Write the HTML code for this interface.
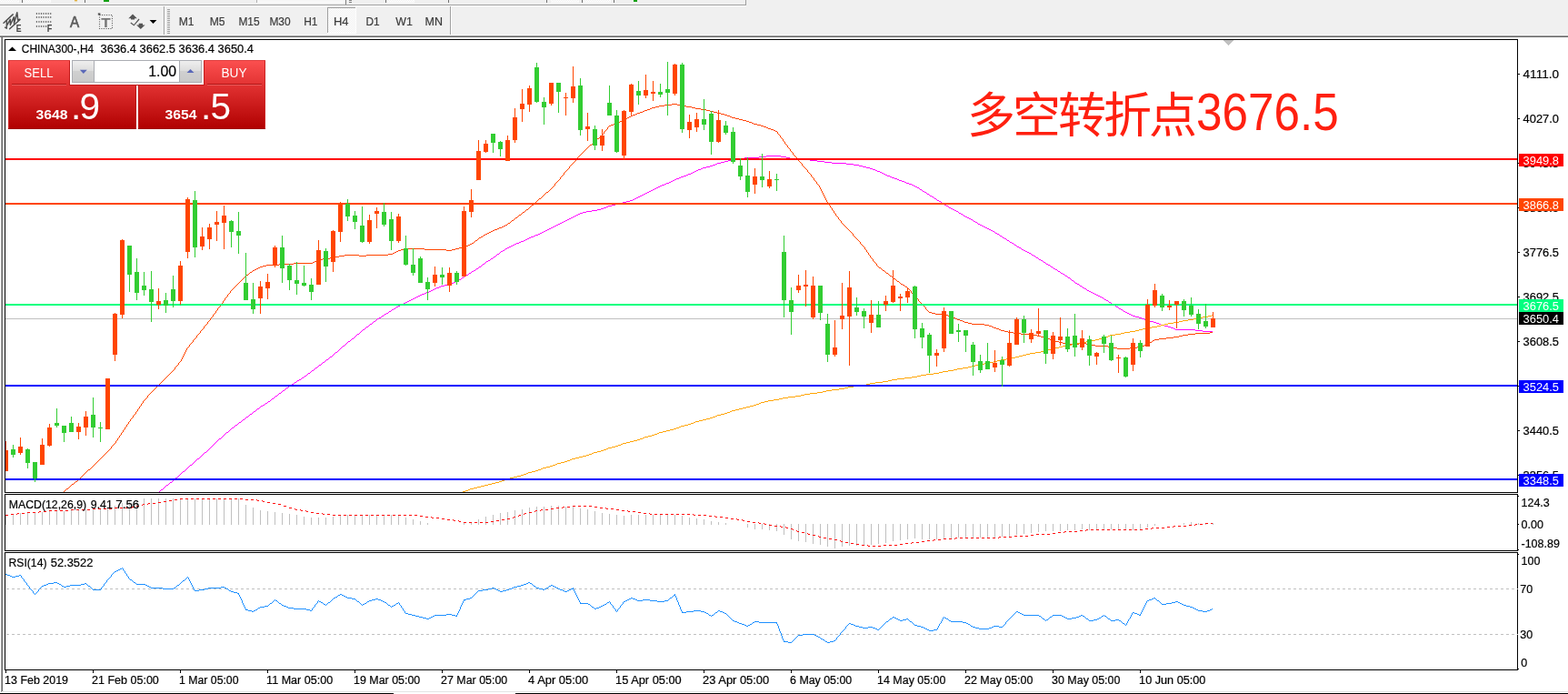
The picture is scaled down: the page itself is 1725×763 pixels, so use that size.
<!DOCTYPE html>
<html lang="zh"><head><meta charset="utf-8"><title>CHINA300-,H4</title>
<style>html,body{margin:0;padding:0;background:#fff;overflow:hidden}svg text{white-space:pre}</style></head>
<body>
<svg width="1725" height="763" viewBox="0 0 1725 763" shape-rendering="crispEdges" font-family='"Liberation Sans", sans-serif' style="display:block">
<defs>
<clipPath id="cm"><rect x="6" y="44" width="1663" height="497"/></clipPath>
<clipPath id="cmacd"><rect x="6" y="544" width="1663" height="61"/></clipPath>
<clipPath id="crsi"><rect x="6" y="608" width="1663" height="128"/></clipPath>
<linearGradient id="gbtn" x1="0" y1="0" x2="0" y2="1"><stop offset="0" stop-color="#fc5050"/><stop offset="1" stop-color="#e23232"/></linearGradient>
<linearGradient id="gpan" x1="0" y1="0" x2="0" y2="1"><stop offset="0" stop-color="#e23232"/><stop offset="1" stop-color="#b00000"/></linearGradient>
<linearGradient id="gspin" x1="0" y1="0" x2="0" y2="1"><stop offset="0" stop-color="#efefef"/><stop offset="0.5" stop-color="#dcdcdc"/><stop offset="0.5" stop-color="#d0d0d0"/><stop offset="1" stop-color="#cacaca"/></linearGradient>
<pattern id="hatch" width="2" height="2" patternUnits="userSpaceOnUse"><rect width="2" height="2" fill="#f0f0f0"/><rect width="1" height="1" fill="#fff"/><rect x="1" y="1" width="1" height="1" fill="#fff"/></pattern>
</defs>
<rect x="0" y="0" width="1725" height="763" fill="#ffffff"/>
<rect x="0" y="0" width="1725" height="39" fill="#f0f0f0"/>
<g id="topstrip">
<rect x="0" y="5" width="821" height="1" fill="#a0a0a0"/>
<rect x="0" y="6" width="821" height="1" fill="#ffffff"/>
<rect x="820" y="0" width="1" height="6" fill="#a0a0a0"/>
<rect x="0" y="0" width="20" height="2" fill="url(#hatch)"/>
<rect x="0" y="2" width="21" height="1" fill="#fbfbfb"/>
<rect x="20" y="0" width="1" height="3" fill="#fbfbfb"/>
<rect x="24" y="0" width="1" height="3" fill="#707070"/>
<rect x="26" y="0" width="29" height="2" fill="url(#hatch)"/>
<rect x="26" y="2" width="30" height="1" fill="#fbfbfb"/>
<rect x="55" y="0" width="1" height="3" fill="#fbfbfb"/>
<rect x="82" y="0" width="3" height="1" fill="#e0b040"/>
<rect x="82" y="1" width="3" height="1" fill="#ecd9a8"/>
<rect x="93" y="0" width="1" height="3" fill="#707070"/>
<rect x="114" y="0" width="6" height="2" fill="#10a010"/>
<rect x="283" y="0" width="96" height="2" fill="#f6f6f6"/>
<rect x="283" y="2" width="96" height="1" fill="#fdfdfd"/>
<rect x="282" y="0" width="1" height="3" fill="#b0b0b0"/>
<rect x="380" y="0" width="1" height="5" fill="#808080"/>
<rect x="384" y="0" width="3" height="1" fill="#808080"/>
<rect x="384" y="2" width="3" height="1" fill="#808080"/>
<rect x="424" y="0" width="1" height="3" fill="#707070"/>
<rect x="426" y="0" width="29" height="2" fill="url(#hatch)"/>
<rect x="426" y="2" width="30" height="1" fill="#fbfbfb"/>
<rect x="455" y="0" width="1" height="3" fill="#fbfbfb"/>
<rect x="493" y="0" width="1" height="3" fill="#707070"/>
<rect x="601" y="0" width="1" height="3" fill="#707070"/>
<rect x="606" y="0" width="30" height="2" fill="url(#hatch)"/>
<rect x="606" y="2" width="31" height="1" fill="#fbfbfb"/>
<rect x="636" y="0" width="1" height="3" fill="#fbfbfb"/>
<rect x="640" y="0" width="1" height="3" fill="#707070"/>
<rect x="642" y="0" width="29" height="2" fill="url(#hatch)"/>
<rect x="642" y="2" width="30" height="1" fill="#fbfbfb"/>
<rect x="671" y="0" width="1" height="3" fill="#fbfbfb"/>
<rect x="675" y="0" width="1" height="3" fill="#707070"/>
<rect x="697" y="0" width="4" height="2" fill="#10a010"/>
</g>
<g id="toolbar">
<rect x="180" y="7" width="1" height="32" fill="#a0a0a0"/>
<rect x="181" y="7" width="1" height="32" fill="#ffffff"/>
<rect x="184" y="10" width="3" height="1" fill="#a0a0a0"/>
<rect x="184" y="12" width="3" height="1" fill="#a0a0a0"/>
<rect x="184" y="14" width="3" height="1" fill="#a0a0a0"/>
<rect x="184" y="16" width="3" height="1" fill="#a0a0a0"/>
<rect x="184" y="18" width="3" height="1" fill="#a0a0a0"/>
<rect x="184" y="20" width="3" height="1" fill="#a0a0a0"/>
<rect x="184" y="22" width="3" height="1" fill="#a0a0a0"/>
<rect x="184" y="24" width="3" height="1" fill="#a0a0a0"/>
<rect x="184" y="26" width="3" height="1" fill="#a0a0a0"/>
<rect x="184" y="28" width="3" height="1" fill="#a0a0a0"/>
<rect x="184" y="30" width="3" height="1" fill="#a0a0a0"/>
<rect x="184" y="32" width="3" height="1" fill="#a0a0a0"/>
<rect x="184" y="34" width="3" height="1" fill="#a0a0a0"/>
<rect x="184" y="36" width="3" height="1" fill="#a0a0a0"/>
<rect x="360" y="8" width="31" height="29" fill="url(#hatch)"/>
<rect x="360" y="8" width="31" height="1" fill="#a0a0a0"/>
<rect x="360" y="8" width="1" height="29" fill="#a0a0a0"/>
<rect x="360" y="36" width="32" height="1" fill="#ffffff"/>
<rect x="391" y="8" width="1" height="29" fill="#ffffff"/>
<text x="196.8" y="28" font-size="12.5" fill="#3c3c3c" stroke="#3c3c3c" stroke-width="0.2" textLength="16.8" lengthAdjust="spacingAndGlyphs">M1</text>
<text x="230.8" y="28" font-size="12.5" fill="#3c3c3c" stroke="#3c3c3c" stroke-width="0.2" textLength="16.8" lengthAdjust="spacingAndGlyphs">M5</text>
<text x="262.4" y="28" font-size="12.5" fill="#3c3c3c" stroke="#3c3c3c" stroke-width="0.2" textLength="23.2" lengthAdjust="spacingAndGlyphs">M15</text>
<text x="296.4" y="28" font-size="12.5" fill="#3c3c3c" stroke="#3c3c3c" stroke-width="0.2" textLength="23.2" lengthAdjust="spacingAndGlyphs">M30</text>
<text x="334.2" y="28" font-size="12.5" fill="#3c3c3c" stroke="#3c3c3c" stroke-width="0.2" textLength="15.3" lengthAdjust="spacingAndGlyphs">H1</text>
<text x="366.9" y="28" font-size="12.5" fill="#3c3c3c" stroke="#3c3c3c" stroke-width="0.2" textLength="16.6" lengthAdjust="spacingAndGlyphs">H4</text>
<text x="402.5" y="28" font-size="12.5" fill="#3c3c3c" stroke="#3c3c3c" stroke-width="0.2" textLength="15.2" lengthAdjust="spacingAndGlyphs">D1</text>
<text x="435.3" y="28" font-size="12.5" fill="#3c3c3c" stroke="#3c3c3c" stroke-width="0.2" textLength="18.6" lengthAdjust="spacingAndGlyphs">W1</text>
<text x="467.5" y="28" font-size="12.5" fill="#3c3c3c" stroke="#3c3c3c" stroke-width="0.2" textLength="19.4" lengthAdjust="spacingAndGlyphs">MN</text>
<rect x="495" y="7" width="1" height="32" fill="#a0a0a0"/>
<rect x="496" y="7" width="1" height="32" fill="#ffffff"/>
<g id="icons" shape-rendering="geometricPrecision">
<g stroke="#505050" fill="none" stroke-width="1.5" stroke-linecap="round" stroke-linejoin="round">
<path d="M4 25.3 L14.2 15.9"/>
<path d="M10.6 31.8 L22 21.5"/>
<path d="M5.6 30.2 L7.3 31.2 L7.4 22.9 M7.6 28 L11.3 21.3 L11.4 27.6 M11.6 26.8 L15.3 18.7 L15.6 26.4 M15.8 24.6 L18.8 13.7 L19.7 22.2 L21.6 21.2"/>
</g>
<text x="17.8" y="34.7" font-size="10.5" fill="#444" font-weight="bold" textLength="5.8" lengthAdjust="spacingAndGlyphs">E</text>
<rect x="39.8" y="14" width="1.2" height="1.9" fill="#707070"/>
<rect x="42.349999999999994" y="14" width="1.2" height="1.9" fill="#707070"/>
<rect x="44.9" y="14" width="1.2" height="1.9" fill="#707070"/>
<rect x="47.449999999999996" y="14" width="1.2" height="1.9" fill="#707070"/>
<rect x="50.0" y="14" width="1.2" height="1.9" fill="#707070"/>
<rect x="52.55" y="14" width="1.2" height="1.9" fill="#707070"/>
<rect x="55.099999999999994" y="14" width="1.2" height="1.9" fill="#707070"/>
<rect x="39.8" y="18" width="1.2" height="1.9" fill="#707070"/>
<rect x="42.349999999999994" y="18" width="1.2" height="1.9" fill="#707070"/>
<rect x="44.9" y="18" width="1.2" height="1.9" fill="#707070"/>
<rect x="47.449999999999996" y="18" width="1.2" height="1.9" fill="#707070"/>
<rect x="50.0" y="18" width="1.2" height="1.9" fill="#707070"/>
<rect x="52.55" y="18" width="1.2" height="1.9" fill="#707070"/>
<rect x="55.099999999999994" y="18" width="1.2" height="1.9" fill="#707070"/>
<rect x="39.8" y="23" width="1.2" height="1.9" fill="#707070"/>
<rect x="42.349999999999994" y="23" width="1.2" height="1.9" fill="#707070"/>
<rect x="44.9" y="23" width="1.2" height="1.9" fill="#707070"/>
<rect x="47.449999999999996" y="23" width="1.2" height="1.9" fill="#707070"/>
<rect x="50.0" y="23" width="1.2" height="1.9" fill="#707070"/>
<rect x="52.55" y="23" width="1.2" height="1.9" fill="#707070"/>
<rect x="55.099999999999994" y="23" width="1.2" height="1.9" fill="#707070"/>
<rect x="39.8" y="28" width="1.2" height="1.9" fill="#707070"/>
<rect x="42.349999999999994" y="28" width="1.2" height="1.9" fill="#707070"/>
<rect x="44.9" y="28" width="1.2" height="1.9" fill="#707070"/>
<rect x="47.449999999999996" y="28" width="1.2" height="1.9" fill="#707070"/>
<rect x="50.0" y="28" width="1.2" height="1.9" fill="#707070"/>
<text x="51.8" y="34.7" font-size="10.5" fill="#444" font-weight="bold" textLength="5.6" lengthAdjust="spacingAndGlyphs">F</text>
<text x="76.9" y="29.8" font-size="16.3" fill="#5a5a5a" stroke="#5a5a5a" stroke-width="0.6" textLength="10.2" lengthAdjust="spacingAndGlyphs">A</text>
<rect x="109.5" y="16.5" width="14" height="15" fill="none" stroke="#5a5a5a" stroke-width="1.1" stroke-dasharray="1.1 1.4"/>
<rect x="107.8" y="14.4" width="2.6" height="2.2" fill="#555"/>
<text x="111.2" y="29.6" font-size="14.5" fill="#777" font-weight="bold" textLength="10.4" lengthAdjust="spacingAndGlyphs">T</text>
<g fill="#555" stroke="none">
<path d="M146 15.6 L150.8 20.3 L148.1 20.3 L148.1 21.6 L144 21.6 L144 20.3 L141.3 20.3 Z"/>
<path d="M154.8 32 L159.6 27.4 L157 27.4 L157 25.8 L152.7 25.8 L152.7 27.4 L150.1 27.4 Z"/>
<path d="M144.2 24.6 L147.3 27 L152.6 20.6 L153.5 21.6 L147.4 28.6 L143.4 25.6 Z"/>
<path d="M164.6 22 L172.4 22 L168.5 26.1 Z" fill="#000"/>
</g>
</g>
</g>
<rect x="0" y="38" width="1725" height="1" fill="#f8f8f8"/>
<rect x="0" y="39" width="1725" height="1" fill="#a0a0a0"/>
<rect x="0" y="40" width="1725" height="1" fill="#696969"/>
<rect x="1" y="41" width="1" height="720" fill="#a0a0a0"/>
<rect x="2" y="41" width="1" height="719" fill="#696969"/>
<rect x="3" y="760" width="1722" height="1" fill="#e3e3e3"/>
<rect x="0" y="762" width="433" height="1" fill="#000"/>
<rect x="567" y="762" width="1158" height="1" fill="#000"/>
<rect x="5" y="43" width="1665" height="1" fill="#000"/>
<rect x="5" y="541" width="1665" height="1" fill="#000"/>
<rect x="5" y="43" width="1" height="499" fill="#000"/>
<rect x="1669" y="43" width="1" height="499" fill="#000"/>
<rect x="5" y="543" width="1665" height="1" fill="#000"/>
<rect x="5" y="605" width="1665" height="1" fill="#000"/>
<rect x="5" y="543" width="1" height="63" fill="#000"/>
<rect x="1669" y="543" width="1" height="63" fill="#000"/>
<rect x="5" y="607" width="1665" height="1" fill="#000"/>
<rect x="5" y="736" width="1665" height="1" fill="#000"/>
<rect x="5" y="607" width="1" height="130" fill="#000"/>
<rect x="1669" y="607" width="1" height="130" fill="#000"/>
<g clip-path="url(#cm)">
<rect x="6" y="350" width="1663" height="1" fill="#c0c0c0"/>
<path fill="#ff4500" d="M739 114h6v1h-6zM731 115h8v1h-8zM745 115h4v1h-4zM725 116h6v1h-6zM749 116h6v1h-6zM721 117h4v1h-4zM755 117h6v1h-6zM717 118h4v1h-4zM761 118h4v1h-4zM715 119h2v1h-2zM765 119h6v1h-6zM712 120h3v1h-3zM771 120h6v1h-6zM709 121h3v1h-3zM777 121h4v1h-4zM707 122h2v1h-2zM781 122h4v1h-4zM704 123h3v1h-3zM785 123h4v1h-4zM701 124h3v1h-3zM789 124h4v1h-4zM699 125h2v1h-2zM793 125h4v1h-4zM696 126h3v1h-3zM797 126h3v1h-3zM694 127h2v1h-2zM800 127h3v1h-3zM692 128h2v1h-2zM803 128h2v1h-2zM690 129h2v1h-2zM805 129h4v1h-4zM688 130h2v1h-2zM809 130h4v1h-4zM686 131h2v1h-2zM813 131h4v1h-4zM684 132h2v1h-2zM817 132h4v1h-4zM682 133h2v1h-2zM821 133h3v1h-3zM680 134h2v1h-2zM824 134h3v1h-3zM677 135h3v1h-3zM827 135h2v1h-2zM675 136h2v1h-2zM829 136h4v1h-4zM672 137h3v1h-3zM833 137h4v1h-4zM670 138h2v1h-2zM837 138h3v1h-3zM669 139h1v1h-1zM840 139h3v1h-3zM668 140h1v2h-1zM843 140h2v1h-2zM845 141h3v1h-3zM667 142h1v1h-1zM848 142h3v1h-3zM666 143h1v1h-1zM851 143h2v1h-2zM665 144h1v1h-1zM853 144h2v1h-2zM664 145h1v2h-1zM855 145h1v2h-1zM663 147h1v1h-1zM856 147h1v1h-1zM662 148h1v1h-1zM857 148h1v1h-1zM661 149h1v1h-1zM858 149h1v2h-1zM660 150h1v1h-1zM659 151h1v1h-1zM859 151h1v1h-1zM657 152h2v1h-2zM860 152h1v1h-1zM656 153h1v1h-1zM861 153h1v2h-1zM655 154h1v1h-1zM654 155h1v1h-1zM862 155h1v1h-1zM653 156h1v1h-1zM863 156h1v2h-1zM652 157h1v1h-1zM651 158h1v1h-1zM864 158h1v1h-1zM649 159h2v1h-2zM865 159h1v1h-1zM648 160h1v1h-1zM866 160h1v2h-1zM647 161h1v1h-1zM646 162h1v1h-1zM867 162h1v1h-1zM645 163h1v1h-1zM868 163h1v1h-1zM644 164h1v1h-1zM869 164h1v2h-1zM643 165h1v1h-1zM642 166h1v1h-1zM870 166h1v1h-1zM641 167h1v1h-1zM871 167h1v1h-1zM640 168h1v1h-1zM872 168h1v2h-1zM639 169h1v1h-1zM638 170h1v1h-1zM873 170h1v1h-1zM637 171h1v1h-1zM874 171h1v1h-1zM636 172h1v1h-1zM875 172h1v1h-1zM635 173h1v1h-1zM876 173h1v2h-1zM634 174h1v2h-1zM877 175h1v1h-1zM633 176h1v1h-1zM878 176h1v1h-1zM632 177h1v1h-1zM879 177h1v1h-1zM631 178h1v1h-1zM880 178h1v1h-1zM630 179h1v1h-1zM881 179h1v1h-1zM629 180h1v1h-1zM882 180h1v2h-1zM628 181h1v1h-1zM627 182h1v1h-1zM883 182h1v1h-1zM626 183h1v2h-1zM884 183h1v1h-1zM885 184h1v1h-1zM625 185h1v1h-1zM886 185h1v1h-1zM624 186h1v1h-1zM887 186h1v1h-1zM623 187h1v1h-1zM888 187h1v2h-1zM622 188h1v1h-1zM621 189h1v1h-1zM889 189h1v1h-1zM620 190h1v2h-1zM890 190h1v1h-1zM891 191h1v1h-1zM619 192h1v1h-1zM892 192h1v2h-1zM618 193h1v1h-1zM617 194h1v1h-1zM893 194h1v1h-1zM616 195h1v2h-1zM894 195h1v1h-1zM895 196h1v2h-1zM615 197h1v1h-1zM614 198h1v1h-1zM896 198h1v1h-1zM613 199h1v1h-1zM897 199h1v1h-1zM612 200h1v1h-1zM898 200h1v2h-1zM611 201h1v1h-1zM610 202h1v2h-1zM899 202h1v1h-1zM900 203h1v1h-1zM609 204h1v1h-1zM901 204h1v2h-1zM608 205h1v1h-1zM607 206h1v1h-1zM902 206h1v2h-1zM606 207h1v1h-1zM605 208h1v1h-1zM903 208h1v2h-1zM604 209h1v1h-1zM603 210h1v1h-1zM904 210h1v2h-1zM601 211h2v1h-2zM600 212h1v1h-1zM905 212h1v2h-1zM599 213h1v1h-1zM598 214h1v1h-1zM906 214h1v2h-1zM597 215h1v1h-1zM596 216h1v1h-1zM907 216h1v2h-1zM595 217h1v1h-1zM593 218h2v1h-2zM908 218h1v2h-1zM592 219h1v1h-1zM591 220h1v1h-1zM909 220h1v2h-1zM590 221h1v1h-1zM589 222h1v1h-1zM910 222h1v1h-1zM588 223h1v1h-1zM911 223h1v2h-1zM587 224h1v1h-1zM585 225h2v1h-2zM912 225h1v1h-1zM584 226h1v1h-1zM913 226h1v2h-1zM583 227h1v1h-1zM582 228h1v1h-1zM914 228h1v1h-1zM581 229h1v1h-1zM915 229h1v2h-1zM579 230h2v1h-2zM578 231h1v1h-1zM916 231h1v1h-1zM577 232h1v1h-1zM917 232h1v2h-1zM575 233h2v1h-2zM574 234h1v1h-1zM918 234h1v1h-1zM573 235h1v1h-1zM919 235h1v2h-1zM571 236h2v1h-2zM570 237h1v1h-1zM920 237h1v1h-1zM569 238h1v1h-1zM921 238h1v1h-1zM567 239h2v1h-2zM922 239h1v2h-1zM566 240h1v1h-1zM565 241h1v1h-1zM923 241h1v1h-1zM563 242h2v1h-2zM924 242h1v1h-1zM562 243h1v1h-1zM925 243h1v2h-1zM561 244h1v1h-1zM559 245h2v1h-2zM926 245h1v1h-1zM558 246h1v1h-1zM927 246h1v1h-1zM556 247h2v1h-2zM928 247h1v1h-1zM554 248h2v1h-2zM929 248h1v1h-1zM552 249h2v1h-2zM930 249h1v1h-1zM549 250h3v1h-3zM931 250h1v1h-1zM547 251h2v1h-2zM932 251h1v1h-1zM544 252h3v1h-3zM933 252h1v1h-1zM542 253h2v1h-2zM934 253h1v1h-1zM540 254h2v1h-2zM935 254h1v1h-1zM538 255h2v1h-2zM936 255h1v1h-1zM536 256h2v1h-2zM937 256h1v1h-1zM534 257h2v1h-2zM938 257h1v2h-1zM532 258h2v1h-2zM531 259h1v1h-1zM939 259h1v1h-1zM529 260h2v1h-2zM940 260h1v1h-1zM527 261h2v1h-2zM941 261h1v1h-1zM526 262h1v1h-1zM942 262h1v1h-1zM525 263h1v1h-1zM943 263h1v1h-1zM523 264h2v1h-2zM944 264h1v1h-1zM522 265h1v1h-1zM945 265h1v1h-1zM521 266h1v1h-1zM946 266h1v2h-1zM519 267h2v1h-2zM517 268h2v1h-2zM947 268h1v1h-1zM515 269h2v1h-2zM948 269h1v1h-1zM512 270h3v1h-3zM949 270h1v1h-1zM509 271h3v1h-3zM950 271h1v1h-1zM505 272h4v1h-4zM951 272h1v2h-1zM445 273h22v1h-22zM501 273h4v1h-4zM441 274h4v1h-4zM467 274h24v1h-24zM497 274h4v1h-4zM952 274h1v1h-1zM438 275h3v1h-3zM491 275h6v1h-6zM953 275h1v2h-1zM436 276h2v1h-2zM434 277h2v1h-2zM954 277h1v1h-1zM432 278h2v1h-2zM955 278h1v2h-1zM427 279h5v1h-5zM379 280h16v1h-16zM403 280h24v1h-24zM956 280h1v1h-1zM373 281h6v1h-6zM395 281h8v1h-8zM957 281h1v2h-1zM369 282h4v1h-4zM363 283h6v1h-6zM958 283h1v1h-1zM355 284h8v1h-8zM959 284h1v1h-1zM350 285h5v1h-5zM960 285h1v2h-1zM348 286h2v1h-2zM346 287h2v1h-2zM961 287h1v1h-1zM344 288h2v1h-2zM962 288h1v1h-1zM323 289h21v1h-21zM963 289h1v1h-1zM307 290h16v1h-16zM964 290h1v2h-1zM293 291h14v1h-14zM289 292h4v1h-4zM965 292h1v1h-1zM286 293h3v1h-3zM966 293h1v1h-1zM284 294h2v1h-2zM967 294h2v1h-2zM282 295h2v1h-2zM969 295h1v1h-1zM280 296h2v1h-2zM970 296h1v1h-1zM278 297h2v1h-2zM971 297h2v1h-2zM277 298h1v1h-1zM973 298h1v1h-1zM275 299h2v1h-2zM974 299h1v1h-1zM274 300h1v1h-1zM975 300h2v1h-2zM273 301h1v1h-1zM977 301h1v1h-1zM271 302h2v1h-2zM978 302h1v1h-1zM270 303h1v1h-1zM979 303h2v1h-2zM269 304h1v1h-1zM981 304h1v1h-1zM268 305h1v1h-1zM982 305h1v1h-1zM267 306h1v1h-1zM983 306h2v1h-2zM266 307h1v1h-1zM985 307h1v1h-1zM265 308h1v1h-1zM986 308h1v1h-1zM264 309h1v1h-1zM987 309h2v1h-2zM263 310h1v1h-1zM989 310h1v1h-1zM262 311h1v1h-1zM990 311h1v1h-1zM261 312h1v1h-1zM991 312h2v1h-2zM260 313h1v1h-1zM993 313h2v1h-2zM259 314h1v1h-1zM995 314h1v1h-1zM258 315h1v1h-1zM996 315h2v1h-2zM257 316h1v1h-1zM998 316h1v1h-1zM256 317h1v1h-1zM999 317h1v1h-1zM255 318h1v1h-1zM1000 318h1v1h-1zM254 319h1v1h-1zM1001 319h1v1h-1zM253 320h1v2h-1zM1002 320h1v2h-1zM252 322h1v1h-1zM1003 322h1v1h-1zM251 323h1v1h-1zM1004 323h1v1h-1zM250 324h1v2h-1zM1005 324h1v1h-1zM1006 325h1v1h-1zM249 326h1v1h-1zM1007 326h1v1h-1zM248 327h1v1h-1zM1008 327h1v1h-1zM247 328h1v2h-1zM1009 328h1v1h-1zM1010 329h1v2h-1zM246 330h1v1h-1zM245 331h1v2h-1zM1011 331h1v1h-1zM1012 332h1v1h-1zM244 333h1v1h-1zM1013 333h1v1h-1zM243 334h1v1h-1zM1014 334h1v1h-1zM242 335h1v2h-1zM1015 335h1v1h-1zM1016 336h1v1h-1zM241 337h1v1h-1zM1017 337h1v1h-1zM240 338h1v1h-1zM1018 338h1v2h-1zM239 339h1v2h-1zM1019 340h1v1h-1zM238 341h1v1h-1zM1020 341h1v1h-1zM237 342h1v2h-1zM1021 342h1v1h-1zM1022 343h3v1h-3zM236 344h1v1h-1zM1025 344h4v1h-4zM235 345h1v1h-1zM1029 345h11v1h-11zM234 346h1v2h-1zM1040 346h3v1h-3zM1043 347h2v1h-2zM233 348h1v1h-1zM1045 348h3v1h-3zM232 349h1v1h-1zM1048 349h3v1h-3zM231 350h1v2h-1zM1051 350h2v1h-2zM1053 351h3v1h-3zM230 352h1v1h-1zM1056 352h3v1h-3zM229 353h1v1h-1zM1059 353h2v1h-2zM228 354h1v2h-1zM1061 354h4v1h-4zM1065 355h4v1h-4zM227 356h1v1h-1zM1069 356h14v1h-14zM226 357h1v1h-1zM1083 357h5v1h-5zM225 358h1v1h-1zM1088 358h3v1h-3zM224 359h1v2h-1zM1091 359h2v1h-2zM1093 360h3v1h-3zM223 361h1v1h-1zM1096 361h3v1h-3zM222 362h1v1h-1zM1099 362h2v1h-2zM221 363h1v1h-1zM1101 363h4v1h-4zM220 364h1v2h-1zM1105 364h4v1h-4zM1109 365h6v1h-6zM1331 365h3v1h-3zM219 366h1v1h-1zM1115 366h8v1h-8zM1315 366h16v1h-16zM218 367h1v1h-1zM1123 367h14v1h-14zM1307 367h8v1h-8zM217 368h1v1h-1zM1137 368h4v1h-4zM1301 368h6v1h-6zM216 369h1v2h-1zM1141 369h4v1h-4zM1297 369h4v1h-4zM1145 370h4v1h-4zM1291 370h6v1h-6zM215 371h1v1h-1zM1149 371h3v1h-3zM1283 371h8v1h-8zM214 372h1v1h-1zM1152 372h3v1h-3zM1275 372h8v1h-8zM213 373h1v1h-1zM1155 373h2v1h-2zM1270 373h5v1h-5zM212 374h1v2h-1zM1157 374h4v1h-4zM1268 374h2v1h-2zM1161 375h4v1h-4zM1267 375h1v1h-1zM211 376h1v1h-1zM1165 376h4v1h-4zM1265 376h2v1h-2zM210 377h1v1h-1zM1169 377h4v1h-4zM1187 377h8v1h-8zM1263 377h2v1h-2zM209 378h1v1h-1zM1173 378h14v1h-14zM1195 378h6v1h-6zM1261 378h2v1h-2zM208 379h1v2h-1zM1201 379h4v1h-4zM1259 379h2v1h-2zM1205 380h14v1h-14zM1256 380h3v1h-3zM207 381h1v1h-1zM1219 381h6v1h-6zM1251 381h5v1h-5zM206 382h1v1h-1zM1225 382h4v1h-4zM1243 382h8v1h-8zM205 383h1v2h-1zM1229 383h14v1h-14zM204 385h1v2h-1zM203 387h1v2h-1zM202 389h1v2h-1zM201 391h1v2h-1zM200 393h1v2h-1zM199 395h1v2h-1zM198 397h1v1h-1zM197 398h1v1h-1zM196 399h1v2h-1zM195 401h1v1h-1zM194 402h1v1h-1zM193 403h1v1h-1zM192 404h1v2h-1zM191 406h1v1h-1zM190 407h1v1h-1zM189 408h1v1h-1zM188 409h1v1h-1zM187 410h1v1h-1zM186 411h1v1h-1zM185 412h1v1h-1zM184 413h1v1h-1zM183 414h1v1h-1zM182 415h1v1h-1zM181 416h1v1h-1zM180 417h1v1h-1zM179 418h1v1h-1zM178 419h1v1h-1zM177 420h1v1h-1zM176 421h1v1h-1zM175 422h1v1h-1zM174 423h1v1h-1zM173 424h1v1h-1zM172 425h1v1h-1zM171 426h1v1h-1zM170 427h1v1h-1zM169 428h1v1h-1zM168 429h1v1h-1zM167 430h1v1h-1zM166 431h1v1h-1zM165 432h1v1h-1zM164 433h1v1h-1zM163 434h1v1h-1zM162 435h1v2h-1zM161 437h1v1h-1zM160 438h1v1h-1zM159 439h1v1h-1zM158 440h1v1h-1zM157 441h1v2h-1zM156 443h1v1h-1zM155 444h1v2h-1zM154 446h1v1h-1zM153 447h1v2h-1zM152 449h1v1h-1zM151 450h1v2h-1zM150 452h1v1h-1zM149 453h1v2h-1zM148 455h1v1h-1zM147 456h1v1h-1zM146 457h1v2h-1zM145 459h1v1h-1zM144 460h1v1h-1zM143 461h1v2h-1zM142 463h1v1h-1zM141 464h1v2h-1zM140 466h1v1h-1zM139 467h1v2h-1zM138 469h1v1h-1zM137 470h1v2h-1zM136 472h1v1h-1zM135 473h1v2h-1zM134 475h1v1h-1zM133 476h1v2h-1zM132 478h1v1h-1zM131 479h1v2h-1zM130 481h1v1h-1zM129 482h1v2h-1zM128 484h1v1h-1zM127 485h1v2h-1zM126 487h1v1h-1zM125 488h1v1h-1zM124 489h1v1h-1zM123 490h1v1h-1zM122 491h1v2h-1zM121 493h1v1h-1zM120 494h1v1h-1zM119 495h1v1h-1zM118 496h1v1h-1zM117 497h1v1h-1zM116 498h1v1h-1zM115 499h1v1h-1zM114 500h1v1h-1zM113 501h1v1h-1zM112 502h1v1h-1zM111 503h1v1h-1zM110 504h1v1h-1zM109 505h1v1h-1zM108 506h1v1h-1zM107 507h1v1h-1zM106 508h1v1h-1zM105 509h1v1h-1zM104 510h1v1h-1zM103 511h1v1h-1zM102 512h1v1h-1zM101 513h1v1h-1zM100 514h1v1h-1zM99 515h1v1h-1zM97 516h2v1h-2zM96 517h1v1h-1zM95 518h1v1h-1zM94 519h1v1h-1zM93 520h1v1h-1zM92 521h1v1h-1zM91 522h1v1h-1zM90 523h1v1h-1zM89 524h1v1h-1zM88 525h1v1h-1zM87 526h1v1h-1zM86 527h1v1h-1zM85 528h1v1h-1zM83 529h2v1h-2zM82 530h1v1h-1zM81 531h1v1h-1zM79 532h2v1h-2zM78 533h1v1h-1zM77 534h1v1h-1zM76 535h1v1h-1zM75 536h1v1h-1zM73 537h2v1h-2zM72 538h1v1h-1zM71 539h1v1h-1zM70 540h1v1h-1zM69 541h1v1h-1z"/>
<path fill="#ff00ff" d="M843 171h16v1h-16zM835 172h8v1h-8zM859 172h6v1h-6zM819 173h16v1h-16zM865 173h4v1h-4zM811 174h8v1h-8zM869 174h14v1h-14zM805 175h6v1h-6zM883 175h8v1h-8zM801 176h4v1h-4zM891 176h8v1h-8zM797 177h4v1h-4zM899 177h8v1h-8zM793 178h4v1h-4zM907 178h8v1h-8zM789 179h4v1h-4zM915 179h16v1h-16zM787 180h2v1h-2zM931 180h8v1h-8zM784 181h3v1h-3zM939 181h6v1h-6zM781 182h3v1h-3zM945 182h4v1h-4zM777 183h4v1h-4zM949 183h4v1h-4zM773 184h4v1h-4zM953 184h4v1h-4zM771 185h2v1h-2zM957 185h3v1h-3zM768 186h3v1h-3zM960 186h3v1h-3zM766 187h2v1h-2zM963 187h2v1h-2zM764 188h2v1h-2zM965 188h3v1h-3zM762 189h2v1h-2zM968 189h2v1h-2zM760 190h2v1h-2zM970 190h2v1h-2zM757 191h3v1h-3zM972 191h2v1h-2zM755 192h2v1h-2zM974 192h2v1h-2zM752 193h3v1h-3zM976 193h3v1h-3zM749 194h3v1h-3zM979 194h2v1h-2zM747 195h2v1h-2zM981 195h3v1h-3zM744 196h3v1h-3zM984 196h3v1h-3zM742 197h2v1h-2zM987 197h2v1h-2zM740 198h2v1h-2zM989 198h3v1h-3zM738 199h2v1h-2zM992 199h3v1h-3zM736 200h2v1h-2zM995 200h2v1h-2zM733 201h3v1h-3zM997 201h3v1h-3zM731 202h2v1h-2zM1000 202h3v1h-3zM728 203h3v1h-3zM1003 203h2v1h-2zM726 204h2v1h-2zM1005 204h2v1h-2zM724 205h2v1h-2zM1007 205h2v1h-2zM722 206h2v1h-2zM1009 206h2v1h-2zM720 207h2v1h-2zM1011 207h1v1h-1zM718 208h2v1h-2zM1012 208h2v1h-2zM716 209h2v1h-2zM1014 209h1v1h-1zM714 210h2v1h-2zM1015 210h2v1h-2zM712 211h2v1h-2zM1017 211h2v1h-2zM710 212h2v1h-2zM1019 212h1v1h-1zM708 213h2v1h-2zM1020 213h2v1h-2zM706 214h2v1h-2zM1022 214h1v1h-1zM704 215h2v1h-2zM1023 215h2v1h-2zM702 216h2v1h-2zM1025 216h2v1h-2zM700 217h2v1h-2zM1027 217h1v1h-1zM698 218h2v1h-2zM1028 218h2v1h-2zM696 219h2v1h-2zM1030 219h1v1h-1zM693 220h3v1h-3zM1031 220h2v1h-2zM689 221h4v1h-4zM1033 221h2v1h-2zM685 222h4v1h-4zM1035 222h1v1h-1zM681 223h4v1h-4zM1036 223h2v1h-2zM677 224h4v1h-4zM1038 224h1v1h-1zM673 225h4v1h-4zM1039 225h2v1h-2zM669 226h4v1h-4zM1041 226h2v1h-2zM667 227h2v1h-2zM1043 227h1v1h-1zM664 228h3v1h-3zM1044 228h2v1h-2zM661 229h3v1h-3zM1046 229h2v1h-2zM657 230h4v1h-4zM1048 230h2v1h-2zM651 231h6v1h-6zM1050 231h2v1h-2zM645 232h6v1h-6zM1052 232h2v1h-2zM641 233h4v1h-4zM1054 233h1v1h-1zM638 234h3v1h-3zM1055 234h2v1h-2zM636 235h2v1h-2zM1057 235h2v1h-2zM634 236h2v1h-2zM1059 236h1v1h-1zM632 237h2v1h-2zM1060 237h2v1h-2zM630 238h2v1h-2zM1062 238h2v1h-2zM628 239h2v1h-2zM1064 239h2v1h-2zM626 240h2v1h-2zM1066 240h2v1h-2zM624 241h2v1h-2zM1068 241h2v1h-2zM622 242h2v1h-2zM1070 242h1v1h-1zM620 243h2v1h-2zM1071 243h2v1h-2zM618 244h2v1h-2zM1073 244h2v1h-2zM616 245h2v1h-2zM1075 245h1v1h-1zM614 246h2v1h-2zM1076 246h2v1h-2zM612 247h2v1h-2zM1078 247h2v1h-2zM610 248h2v1h-2zM1080 248h2v1h-2zM608 249h2v1h-2zM1082 249h2v1h-2zM606 250h2v1h-2zM1084 250h2v1h-2zM604 251h2v1h-2zM1086 251h2v1h-2zM602 252h2v1h-2zM1088 252h2v1h-2zM600 253h2v1h-2zM1090 253h2v1h-2zM598 254h2v1h-2zM1092 254h2v1h-2zM596 255h2v1h-2zM1094 255h1v1h-1zM594 256h2v1h-2zM1095 256h2v1h-2zM592 257h2v1h-2zM1097 257h2v1h-2zM589 258h3v1h-3zM1099 258h1v1h-1zM587 259h2v1h-2zM1100 259h2v1h-2zM584 260h3v1h-3zM1102 260h1v1h-1zM582 261h2v1h-2zM1103 261h2v1h-2zM580 262h2v1h-2zM1105 262h2v1h-2zM578 263h2v1h-2zM1107 263h1v1h-1zM576 264h2v1h-2zM1108 264h2v1h-2zM573 265h3v1h-3zM1110 265h1v1h-1zM571 266h2v1h-2zM1111 266h2v1h-2zM568 267h3v1h-3zM1113 267h2v1h-2zM566 268h2v1h-2zM1115 268h1v1h-1zM564 269h2v1h-2zM1116 269h2v1h-2zM562 270h2v1h-2zM1118 270h1v1h-1zM560 271h2v1h-2zM1119 271h2v1h-2zM558 272h2v1h-2zM1121 272h2v1h-2zM556 273h2v1h-2zM1123 273h1v1h-1zM555 274h1v1h-1zM1124 274h2v1h-2zM553 275h2v1h-2zM1126 275h2v1h-2zM551 276h2v1h-2zM1128 276h2v1h-2zM550 277h1v1h-1zM1130 277h2v1h-2zM549 278h1v1h-1zM1132 278h2v1h-2zM547 279h2v1h-2zM1134 279h1v1h-1zM546 280h1v1h-1zM1135 280h2v1h-2zM545 281h1v1h-1zM1137 281h2v1h-2zM543 282h2v1h-2zM1139 282h1v1h-1zM542 283h1v1h-1zM1140 283h2v1h-2zM540 284h2v1h-2zM1142 284h1v1h-1zM539 285h1v1h-1zM1143 285h2v1h-2zM537 286h2v1h-2zM1145 286h2v1h-2zM535 287h2v1h-2zM1147 287h1v1h-1zM534 288h1v1h-1zM1148 288h2v1h-2zM533 289h1v1h-1zM1150 289h1v1h-1zM531 290h2v1h-2zM1151 290h2v1h-2zM530 291h1v1h-1zM1153 291h2v1h-2zM529 292h1v1h-1zM1155 292h1v1h-1zM527 293h2v1h-2zM1156 293h2v1h-2zM526 294h1v1h-1zM1158 294h1v1h-1zM524 295h2v1h-2zM1159 295h2v1h-2zM523 296h1v1h-1zM1161 296h2v1h-2zM521 297h2v1h-2zM1163 297h1v1h-1zM519 298h2v1h-2zM1164 298h2v1h-2zM518 299h1v1h-1zM1166 299h1v1h-1zM516 300h2v1h-2zM1167 300h2v1h-2zM515 301h1v1h-1zM1169 301h2v1h-2zM513 302h2v1h-2zM1171 302h1v1h-1zM511 303h2v1h-2zM1172 303h2v1h-2zM510 304h1v1h-1zM1174 304h1v1h-1zM508 305h2v1h-2zM1175 305h2v1h-2zM507 306h1v1h-1zM1177 306h1v1h-1zM505 307h2v1h-2zM1178 307h1v1h-1zM503 308h2v1h-2zM1179 308h2v1h-2zM501 309h2v1h-2zM1181 309h1v1h-1zM499 310h2v1h-2zM1182 310h1v1h-1zM496 311h3v1h-3zM1183 311h2v1h-2zM493 312h3v1h-3zM1185 312h2v1h-2zM489 313h4v1h-4zM1187 313h1v1h-1zM485 314h4v1h-4zM1188 314h2v1h-2zM483 315h2v1h-2zM1190 315h1v1h-1zM480 316h3v1h-3zM1191 316h2v1h-2zM478 317h2v1h-2zM1193 317h2v1h-2zM476 318h2v1h-2zM1195 318h1v1h-1zM474 319h2v1h-2zM1196 319h2v1h-2zM472 320h2v1h-2zM1198 320h2v1h-2zM469 321h3v1h-3zM1200 321h2v1h-2zM467 322h2v1h-2zM1202 322h2v1h-2zM464 323h3v1h-3zM1204 323h2v1h-2zM462 324h2v1h-2zM1206 324h2v1h-2zM460 325h2v1h-2zM1208 325h2v1h-2zM458 326h2v1h-2zM1210 326h2v1h-2zM456 327h2v1h-2zM1212 327h2v1h-2zM454 328h2v1h-2zM1214 328h1v1h-1zM452 329h2v1h-2zM1215 329h2v1h-2zM450 330h2v1h-2zM1217 330h2v1h-2zM448 331h2v1h-2zM1219 331h1v1h-1zM446 332h2v1h-2zM1220 332h2v1h-2zM444 333h2v1h-2zM1222 333h1v1h-1zM442 334h2v1h-2zM1223 334h2v1h-2zM440 335h2v1h-2zM1225 335h2v1h-2zM438 336h2v1h-2zM1227 336h1v1h-1zM436 337h2v1h-2zM1228 337h2v1h-2zM435 338h1v1h-1zM1230 338h1v1h-1zM433 339h2v1h-2zM1231 339h2v1h-2zM431 340h2v1h-2zM1233 340h2v1h-2zM430 341h1v1h-1zM1235 341h1v1h-1zM428 342h2v1h-2zM1236 342h2v1h-2zM427 343h1v1h-1zM1238 343h2v1h-2zM425 344h2v1h-2zM1240 344h2v1h-2zM423 345h2v1h-2zM1242 345h2v1h-2zM422 346h1v1h-1zM1244 346h2v1h-2zM420 347h2v1h-2zM1246 347h3v1h-3zM419 348h1v1h-1zM1249 348h4v1h-4zM417 349h2v1h-2zM1253 349h3v1h-3zM415 350h2v1h-2zM1256 350h3v1h-3zM414 351h1v1h-1zM1259 351h2v1h-2zM413 352h1v1h-1zM1261 352h4v1h-4zM411 353h2v1h-2zM1265 353h4v1h-4zM410 354h1v1h-1zM1269 354h3v1h-3zM409 355h1v1h-1zM1272 355h3v1h-3zM407 356h2v1h-2zM1275 356h2v1h-2zM406 357h1v1h-1zM1277 357h4v1h-4zM405 358h1v1h-1zM1281 358h4v1h-4zM403 359h2v1h-2zM1285 359h3v1h-3zM402 360h1v1h-1zM1288 360h3v1h-3zM401 361h1v1h-1zM1291 361h2v1h-2zM399 362h2v1h-2zM1293 362h22v1h-22zM398 363h1v1h-1zM1315 363h8v1h-8zM397 364h1v1h-1zM1323 364h11v1h-11zM396 365h1v1h-1zM395 366h1v1h-1zM393 367h2v1h-2zM392 368h1v1h-1zM391 369h1v1h-1zM390 370h1v1h-1zM389 371h1v1h-1zM387 372h2v1h-2zM386 373h1v1h-1zM385 374h1v1h-1zM383 375h2v1h-2zM382 376h1v1h-1zM381 377h1v1h-1zM380 378h1v1h-1zM379 379h1v1h-1zM377 380h2v1h-2zM376 381h1v1h-1zM375 382h1v1h-1zM374 383h1v1h-1zM373 384h1v1h-1zM372 385h1v1h-1zM371 386h1v1h-1zM369 387h2v1h-2zM368 388h1v1h-1zM367 389h1v1h-1zM366 390h1v1h-1zM365 391h1v1h-1zM363 392h2v1h-2zM362 393h1v1h-1zM361 394h1v1h-1zM359 395h2v1h-2zM358 396h1v1h-1zM357 397h1v1h-1zM355 398h2v1h-2zM354 399h1v1h-1zM353 400h1v1h-1zM351 401h2v1h-2zM350 402h1v1h-1zM349 403h1v1h-1zM347 404h2v1h-2zM346 405h1v1h-1zM345 406h1v1h-1zM343 407h2v1h-2zM342 408h1v1h-1zM341 409h1v1h-1zM339 410h2v1h-2zM338 411h1v1h-1zM337 412h1v1h-1zM335 413h2v1h-2zM334 414h1v1h-1zM332 415h2v1h-2zM331 416h1v1h-1zM329 417h2v1h-2zM327 418h2v1h-2zM326 419h1v1h-1zM324 420h2v1h-2zM323 421h1v1h-1zM321 422h2v1h-2zM319 423h2v1h-2zM318 424h1v1h-1zM317 425h1v1h-1zM315 426h2v1h-2zM314 427h1v1h-1zM313 428h1v1h-1zM311 429h2v1h-2zM310 430h1v1h-1zM309 431h1v1h-1zM307 432h2v1h-2zM306 433h1v1h-1zM305 434h1v1h-1zM303 435h2v1h-2zM302 436h1v1h-1zM301 437h1v1h-1zM299 438h2v1h-2zM298 439h1v1h-1zM297 440h1v1h-1zM295 441h2v1h-2zM294 442h1v1h-1zM292 443h2v1h-2zM291 444h1v1h-1zM289 445h2v1h-2zM287 446h2v1h-2zM286 447h1v1h-1zM285 448h1v1h-1zM283 449h2v1h-2zM282 450h1v1h-1zM281 451h1v1h-1zM279 452h2v1h-2zM278 453h1v1h-1zM277 454h1v1h-1zM275 455h2v1h-2zM274 456h1v1h-1zM273 457h1v1h-1zM271 458h2v1h-2zM270 459h1v1h-1zM269 460h1v1h-1zM267 461h2v1h-2zM266 462h1v1h-1zM265 463h1v1h-1zM263 464h2v1h-2zM262 465h1v1h-1zM261 466h1v1h-1zM259 467h2v1h-2zM258 468h1v1h-1zM257 469h1v1h-1zM255 470h2v1h-2zM254 471h1v1h-1zM253 472h1v1h-1zM252 473h1v1h-1zM251 474h1v1h-1zM249 475h2v1h-2zM248 476h1v1h-1zM247 477h1v1h-1zM246 478h1v1h-1zM245 479h1v1h-1zM244 480h1v1h-1zM243 481h1v1h-1zM241 482h2v1h-2zM240 483h1v1h-1zM239 484h1v1h-1zM238 485h1v1h-1zM237 486h1v1h-1zM236 487h1v1h-1zM235 488h1v1h-1zM234 489h1v1h-1zM233 490h1v1h-1zM232 491h1v1h-1zM231 492h1v1h-1zM230 493h1v1h-1zM229 494h1v1h-1zM228 495h1v1h-1zM227 496h1v1h-1zM225 497h2v1h-2zM224 498h1v1h-1zM223 499h1v1h-1zM222 500h1v1h-1zM221 501h1v1h-1zM220 502h1v1h-1zM219 503h1v1h-1zM217 504h2v1h-2zM216 505h1v1h-1zM215 506h1v1h-1zM214 507h1v1h-1zM213 508h1v1h-1zM212 509h1v1h-1zM211 510h1v1h-1zM209 511h2v1h-2zM208 512h1v1h-1zM207 513h1v1h-1zM206 514h1v1h-1zM205 515h1v1h-1zM204 516h1v1h-1zM203 517h1v1h-1zM201 518h2v1h-2zM200 519h1v1h-1zM199 520h1v1h-1zM198 521h1v1h-1zM197 522h1v1h-1zM196 523h1v1h-1zM195 524h1v1h-1zM193 525h2v1h-2zM192 526h1v1h-1zM191 527h1v1h-1zM190 528h1v1h-1zM189 529h1v1h-1zM187 530h2v1h-2zM186 531h1v1h-1zM185 532h1v1h-1zM183 533h2v1h-2zM182 534h1v1h-1zM181 535h1v1h-1zM180 536h1v1h-1zM179 537h1v1h-1zM177 538h2v1h-2zM176 539h1v1h-1zM175 540h1v1h-1zM174 541h1v1h-1z"/>
<path fill="#ffa500" d="M1333 346h1v1h-1zM1329 347h4v1h-4zM1323 348h6v1h-6zM1317 349h6v1h-6zM1313 350h4v1h-4zM1307 351h6v1h-6zM1301 352h6v1h-6zM1297 353h4v1h-4zM1291 354h6v1h-6zM1285 355h6v1h-6zM1281 356h4v1h-4zM1277 357h4v1h-4zM1273 358h4v1h-4zM1267 359h6v1h-6zM1261 360h6v1h-6zM1257 361h4v1h-4zM1253 362h4v1h-4zM1249 363h4v1h-4zM1243 364h6v1h-6zM1237 365h6v1h-6zM1233 366h4v1h-4zM1227 367h6v1h-6zM1221 368h6v1h-6zM1219 369h2v1h-2zM1216 370h3v1h-3zM1213 371h3v1h-3zM1209 372h4v1h-4zM1205 373h4v1h-4zM1201 374h4v1h-4zM1195 375h6v1h-6zM1189 376h6v1h-6zM1185 377h4v1h-4zM1179 378h6v1h-6zM1173 379h6v1h-6zM1169 380h4v1h-4zM1165 381h4v1h-4zM1161 382h4v1h-4zM1157 383h4v1h-4zM1153 384h4v1h-4zM1149 385h4v1h-4zM1145 386h4v1h-4zM1139 387h6v1h-6zM1133 388h6v1h-6zM1129 389h4v1h-4zM1125 390h4v1h-4zM1121 391h4v1h-4zM1117 392h4v1h-4zM1113 393h4v1h-4zM1107 394h6v1h-6zM1101 395h6v1h-6zM1097 396h4v1h-4zM1093 397h4v1h-4zM1089 398h4v1h-4zM1083 399h6v1h-6zM1077 400h6v1h-6zM1073 401h4v1h-4zM1069 402h4v1h-4zM1065 403h4v1h-4zM1059 404h6v1h-6zM1053 405h6v1h-6zM1049 406h4v1h-4zM1043 407h6v1h-6zM1037 408h6v1h-6zM1033 409h4v1h-4zM1027 410h6v1h-6zM1019 411h8v1h-8zM1013 412h6v1h-6zM1009 413h4v1h-4zM1003 414h6v1h-6zM995 415h8v1h-8zM987 416h8v1h-8zM981 417h6v1h-6zM977 418h4v1h-4zM971 419h6v1h-6zM963 420h8v1h-8zM957 421h6v1h-6zM953 422h4v1h-4zM947 423h6v1h-6zM939 424h8v1h-8zM933 425h6v1h-6zM929 426h4v1h-4zM923 427h6v1h-6zM915 428h8v1h-8zM909 429h6v1h-6zM905 430h4v1h-4zM899 431h6v1h-6zM891 432h8v1h-8zM885 433h6v1h-6zM881 434h4v1h-4zM875 435h6v1h-6zM867 436h8v1h-8zM861 437h6v1h-6zM857 438h4v1h-4zM851 439h6v1h-6zM845 440h6v1h-6zM841 441h4v1h-4zM837 442h4v1h-4zM835 443h2v1h-2zM832 444h3v1h-3zM829 445h3v1h-3zM825 446h4v1h-4zM821 447h4v1h-4zM817 448h4v1h-4zM813 449h4v1h-4zM809 450h4v1h-4zM805 451h4v1h-4zM803 452h2v1h-2zM800 453h3v1h-3zM797 454h3v1h-3zM793 455h4v1h-4zM789 456h4v1h-4zM787 457h2v1h-2zM784 458h3v1h-3zM781 459h3v1h-3zM777 460h4v1h-4zM773 461h4v1h-4zM769 462h4v1h-4zM765 463h4v1h-4zM763 464h2v1h-2zM760 465h3v1h-3zM757 466h3v1h-3zM753 467h4v1h-4zM749 468h4v1h-4zM747 469h2v1h-2zM744 470h3v1h-3zM741 471h3v1h-3zM737 472h4v1h-4zM733 473h4v1h-4zM729 474h4v1h-4zM725 475h4v1h-4zM723 476h2v1h-2zM720 477h3v1h-3zM717 478h3v1h-3zM713 479h4v1h-4zM709 480h4v1h-4zM707 481h2v1h-2zM704 482h3v1h-3zM701 483h3v1h-3zM697 484h4v1h-4zM693 485h4v1h-4zM689 486h4v1h-4zM685 487h4v1h-4zM683 488h2v1h-2zM680 489h3v1h-3zM677 490h3v1h-3zM673 491h4v1h-4zM669 492h4v1h-4zM667 493h2v1h-2zM664 494h3v1h-3zM661 495h3v1h-3zM657 496h4v1h-4zM653 497h4v1h-4zM651 498h2v1h-2zM648 499h3v1h-3zM645 500h3v1h-3zM641 501h4v1h-4zM637 502h4v1h-4zM633 503h4v1h-4zM629 504h4v1h-4zM627 505h2v1h-2zM624 506h3v1h-3zM621 507h3v1h-3zM617 508h4v1h-4zM613 509h4v1h-4zM611 510h2v1h-2zM608 511h3v1h-3zM605 512h3v1h-3zM601 513h4v1h-4zM597 514h4v1h-4zM595 515h2v1h-2zM592 516h3v1h-3zM589 517h3v1h-3zM585 518h4v1h-4zM581 519h4v1h-4zM579 520h2v1h-2zM576 521h3v1h-3zM573 522h3v1h-3zM569 523h4v1h-4zM565 524h4v1h-4zM561 525h4v1h-4zM557 526h4v1h-4zM555 527h2v1h-2zM552 528h3v1h-3zM549 529h3v1h-3zM545 530h4v1h-4zM541 531h4v1h-4zM537 532h4v1h-4zM533 533h4v1h-4zM529 534h4v1h-4zM525 535h4v1h-4zM521 536h4v1h-4zM517 537h4v1h-4zM515 538h2v1h-2zM512 539h3v1h-3zM509 540h3v1h-3zM506 541h3v1h-3z"/>
<rect x="6" y="174" width="1663" height="2" fill="#ff0000"/>
<rect x="6" y="223" width="1663" height="2" fill="#ff4500"/>
<rect x="6" y="334" width="1663" height="2" fill="#00ff7f"/>
<rect x="6" y="423" width="1663" height="2" fill="#0000ff"/>
<rect x="6" y="526" width="1663" height="2" fill="#0000ff"/>
<rect x="6" y="485" width="1" height="33" fill="#ff4500"/>
<rect x="4" y="495" width="5" height="23" fill="#ff4500"/>
<rect x="14" y="489" width="1" height="14" fill="#32cd32"/>
<rect x="12" y="494" width="5" height="6" fill="#32cd32"/>
<rect x="22" y="481" width="1" height="19" fill="#ff4500"/>
<rect x="20" y="491" width="5" height="7" fill="#ff4500"/>
<rect x="30" y="493" width="1" height="22" fill="#32cd32"/>
<rect x="28" y="494" width="5" height="15" fill="#32cd32"/>
<rect x="38" y="508" width="1" height="22" fill="#32cd32"/>
<rect x="36" y="508" width="5" height="18" fill="#32cd32"/>
<rect x="46" y="482" width="1" height="29" fill="#ff4500"/>
<rect x="44" y="489" width="5" height="22" fill="#ff4500"/>
<rect x="54" y="466" width="1" height="25" fill="#ff4500"/>
<rect x="52" y="470" width="5" height="20" fill="#ff4500"/>
<rect x="62" y="449" width="1" height="21" fill="#32cd32"/>
<rect x="60" y="465" width="5" height="3" fill="#32cd32"/>
<rect x="70" y="468" width="1" height="18" fill="#32cd32"/>
<rect x="68" y="468" width="5" height="8" fill="#32cd32"/>
<rect x="78" y="458" width="1" height="17" fill="#32cd32"/>
<rect x="76" y="465" width="5" height="10" fill="#32cd32"/>
<rect x="86" y="465" width="1" height="18" fill="#ff4500"/>
<rect x="84" y="469" width="5" height="6" fill="#ff4500"/>
<rect x="94" y="452" width="1" height="27" fill="#ff4500"/>
<rect x="92" y="458" width="5" height="12" fill="#ff4500"/>
<rect x="102" y="437" width="1" height="44" fill="#32cd32"/>
<rect x="100" y="456" width="5" height="14" fill="#32cd32"/>
<rect x="110" y="464" width="1" height="22" fill="#32cd32"/>
<rect x="108" y="470" width="5" height="1" fill="#32cd32"/>
<rect x="118" y="416" width="1" height="56" fill="#ff4500"/>
<rect x="116" y="416" width="5" height="56" fill="#ff4500"/>
<rect x="126" y="344" width="1" height="53" fill="#ff4500"/>
<rect x="124" y="345" width="5" height="45" fill="#ff4500"/>
<rect x="134" y="263" width="1" height="87" fill="#ff4500"/>
<rect x="132" y="264" width="5" height="82" fill="#ff4500"/>
<rect x="142" y="270" width="1" height="51" fill="#32cd32"/>
<rect x="140" y="270" width="5" height="32" fill="#32cd32"/>
<rect x="150" y="284" width="1" height="46" fill="#32cd32"/>
<rect x="148" y="299" width="5" height="23" fill="#32cd32"/>
<rect x="158" y="299" width="1" height="26" fill="#32cd32"/>
<rect x="156" y="314" width="5" height="5" fill="#32cd32"/>
<rect x="166" y="298" width="1" height="56" fill="#32cd32"/>
<rect x="164" y="318" width="5" height="14" fill="#32cd32"/>
<rect x="174" y="317" width="1" height="23" fill="#ff4500"/>
<rect x="172" y="331" width="5" height="4" fill="#ff4500"/>
<rect x="182" y="322" width="1" height="22" fill="#32cd32"/>
<rect x="180" y="330" width="5" height="6" fill="#32cd32"/>
<rect x="190" y="303" width="1" height="35" fill="#32cd32"/>
<rect x="188" y="318" width="5" height="13" fill="#32cd32"/>
<rect x="198" y="287" width="1" height="48" fill="#ff4500"/>
<rect x="196" y="292" width="5" height="39" fill="#ff4500"/>
<rect x="206" y="217" width="1" height="67" fill="#ff4500"/>
<rect x="204" y="219" width="5" height="58" fill="#ff4500"/>
<rect x="214" y="210" width="1" height="73" fill="#32cd32"/>
<rect x="212" y="220" width="5" height="52" fill="#32cd32"/>
<rect x="222" y="250" width="1" height="25" fill="#ff4500"/>
<rect x="220" y="260" width="5" height="11" fill="#ff4500"/>
<rect x="230" y="246" width="1" height="28" fill="#ff4500"/>
<rect x="228" y="250" width="5" height="13" fill="#ff4500"/>
<rect x="238" y="232" width="1" height="33" fill="#ff4500"/>
<rect x="236" y="244" width="5" height="3" fill="#ff4500"/>
<rect x="246" y="226" width="1" height="48" fill="#ff4500"/>
<rect x="244" y="237" width="5" height="8" fill="#ff4500"/>
<rect x="254" y="242" width="1" height="30" fill="#32cd32"/>
<rect x="252" y="243" width="5" height="12" fill="#32cd32"/>
<rect x="262" y="233" width="1" height="46" fill="#32cd32"/>
<rect x="260" y="254" width="5" height="5" fill="#32cd32"/>
<rect x="270" y="278" width="1" height="52" fill="#32cd32"/>
<rect x="268" y="311" width="5" height="19" fill="#32cd32"/>
<rect x="278" y="311" width="1" height="34" fill="#32cd32"/>
<rect x="276" y="329" width="5" height="11" fill="#32cd32"/>
<rect x="286" y="309" width="1" height="36" fill="#ff4500"/>
<rect x="284" y="315" width="5" height="13" fill="#ff4500"/>
<rect x="294" y="301" width="1" height="28" fill="#ff4500"/>
<rect x="292" y="310" width="5" height="7" fill="#ff4500"/>
<rect x="302" y="270" width="1" height="24" fill="#ff4500"/>
<rect x="300" y="272" width="5" height="20" fill="#ff4500"/>
<rect x="310" y="259" width="1" height="52" fill="#32cd32"/>
<rect x="308" y="272" width="5" height="23" fill="#32cd32"/>
<rect x="318" y="290" width="1" height="29" fill="#32cd32"/>
<rect x="316" y="292" width="5" height="16" fill="#32cd32"/>
<rect x="326" y="288" width="1" height="36" fill="#32cd32"/>
<rect x="324" y="308" width="5" height="4" fill="#32cd32"/>
<rect x="334" y="292" width="1" height="23" fill="#32cd32"/>
<rect x="332" y="311" width="5" height="3" fill="#32cd32"/>
<rect x="342" y="306" width="1" height="24" fill="#32cd32"/>
<rect x="340" y="313" width="5" height="8" fill="#32cd32"/>
<rect x="350" y="264" width="1" height="49" fill="#ff4500"/>
<rect x="348" y="275" width="5" height="38" fill="#ff4500"/>
<rect x="358" y="273" width="1" height="37" fill="#32cd32"/>
<rect x="356" y="276" width="5" height="17" fill="#32cd32"/>
<rect x="366" y="253" width="1" height="46" fill="#ff4500"/>
<rect x="364" y="254" width="5" height="34" fill="#ff4500"/>
<rect x="374" y="222" width="1" height="44" fill="#ff4500"/>
<rect x="372" y="223" width="5" height="32" fill="#ff4500"/>
<rect x="382" y="219" width="1" height="24" fill="#32cd32"/>
<rect x="380" y="224" width="5" height="14" fill="#32cd32"/>
<rect x="390" y="232" width="1" height="20" fill="#32cd32"/>
<rect x="388" y="237" width="5" height="7" fill="#32cd32"/>
<rect x="398" y="227" width="1" height="40" fill="#32cd32"/>
<rect x="396" y="248" width="5" height="18" fill="#32cd32"/>
<rect x="406" y="236" width="1" height="32" fill="#ff4500"/>
<rect x="404" y="242" width="5" height="24" fill="#ff4500"/>
<rect x="414" y="228" width="1" height="23" fill="#ff4500"/>
<rect x="412" y="232" width="5" height="3" fill="#ff4500"/>
<rect x="422" y="223" width="1" height="26" fill="#32cd32"/>
<rect x="420" y="233" width="5" height="14" fill="#32cd32"/>
<rect x="430" y="233" width="1" height="42" fill="#32cd32"/>
<rect x="428" y="241" width="5" height="24" fill="#32cd32"/>
<rect x="438" y="235" width="1" height="32" fill="#ff4500"/>
<rect x="436" y="238" width="5" height="27" fill="#ff4500"/>
<rect x="446" y="259" width="1" height="33" fill="#32cd32"/>
<rect x="444" y="273" width="5" height="18" fill="#32cd32"/>
<rect x="454" y="273" width="1" height="30" fill="#32cd32"/>
<rect x="452" y="291" width="5" height="9" fill="#32cd32"/>
<rect x="462" y="282" width="1" height="29" fill="#32cd32"/>
<rect x="460" y="284" width="5" height="27" fill="#32cd32"/>
<rect x="470" y="305" width="1" height="25" fill="#32cd32"/>
<rect x="468" y="310" width="5" height="8" fill="#32cd32"/>
<rect x="478" y="293" width="1" height="22" fill="#ff4500"/>
<rect x="476" y="302" width="5" height="9" fill="#ff4500"/>
<rect x="486" y="294" width="1" height="19" fill="#32cd32"/>
<rect x="484" y="302" width="5" height="3" fill="#32cd32"/>
<rect x="494" y="294" width="1" height="27" fill="#ff4500"/>
<rect x="492" y="300" width="5" height="14" fill="#ff4500"/>
<rect x="502" y="298" width="1" height="15" fill="#32cd32"/>
<rect x="500" y="300" width="5" height="10" fill="#32cd32"/>
<rect x="510" y="227" width="1" height="77" fill="#ff4500"/>
<rect x="508" y="232" width="5" height="72" fill="#ff4500"/>
<rect x="518" y="208" width="1" height="31" fill="#ff4500"/>
<rect x="516" y="220" width="5" height="13" fill="#ff4500"/>
<rect x="526" y="154" width="1" height="44" fill="#ff4500"/>
<rect x="524" y="166" width="5" height="32" fill="#ff4500"/>
<rect x="534" y="154" width="1" height="14" fill="#ff4500"/>
<rect x="532" y="158" width="5" height="9" fill="#ff4500"/>
<rect x="542" y="147" width="1" height="21" fill="#32cd32"/>
<rect x="540" y="147" width="5" height="10" fill="#32cd32"/>
<rect x="550" y="155" width="1" height="17" fill="#32cd32"/>
<rect x="548" y="156" width="5" height="8" fill="#32cd32"/>
<rect x="558" y="149" width="1" height="28" fill="#ff4500"/>
<rect x="556" y="154" width="5" height="23" fill="#ff4500"/>
<rect x="566" y="119" width="1" height="38" fill="#ff4500"/>
<rect x="564" y="129" width="5" height="25" fill="#ff4500"/>
<rect x="574" y="98" width="1" height="36" fill="#ff4500"/>
<rect x="572" y="114" width="5" height="6" fill="#ff4500"/>
<rect x="582" y="94" width="1" height="29" fill="#ff4500"/>
<rect x="580" y="97" width="5" height="18" fill="#ff4500"/>
<rect x="590" y="69" width="1" height="44" fill="#32cd32"/>
<rect x="588" y="74" width="5" height="38" fill="#32cd32"/>
<rect x="598" y="107" width="1" height="30" fill="#32cd32"/>
<rect x="596" y="112" width="5" height="6" fill="#32cd32"/>
<rect x="606" y="91" width="1" height="25" fill="#ff4500"/>
<rect x="604" y="91" width="5" height="23" fill="#ff4500"/>
<rect x="614" y="91" width="1" height="33" fill="#32cd32"/>
<rect x="612" y="91" width="5" height="10" fill="#32cd32"/>
<rect x="622" y="102" width="1" height="25" fill="#ff4500"/>
<rect x="620" y="107" width="5" height="1" fill="#ff4500"/>
<rect x="630" y="73" width="1" height="40" fill="#ff4500"/>
<rect x="628" y="95" width="5" height="13" fill="#ff4500"/>
<rect x="638" y="86" width="1" height="63" fill="#32cd32"/>
<rect x="636" y="94" width="5" height="49" fill="#32cd32"/>
<rect x="646" y="124" width="1" height="31" fill="#ff4500"/>
<rect x="644" y="139" width="5" height="3" fill="#ff4500"/>
<rect x="654" y="138" width="1" height="27" fill="#32cd32"/>
<rect x="652" y="142" width="5" height="18" fill="#32cd32"/>
<rect x="662" y="142" width="1" height="24" fill="#ff4500"/>
<rect x="660" y="149" width="5" height="11" fill="#ff4500"/>
<rect x="670" y="94" width="1" height="33" fill="#32cd32"/>
<rect x="668" y="113" width="5" height="14" fill="#32cd32"/>
<rect x="678" y="121" width="1" height="47" fill="#32cd32"/>
<rect x="676" y="127" width="5" height="40" fill="#32cd32"/>
<rect x="686" y="121" width="1" height="55" fill="#ff4500"/>
<rect x="684" y="122" width="5" height="49" fill="#ff4500"/>
<rect x="694" y="92" width="1" height="35" fill="#ff4500"/>
<rect x="692" y="93" width="5" height="30" fill="#ff4500"/>
<rect x="702" y="89" width="1" height="26" fill="#32cd32"/>
<rect x="700" y="100" width="5" height="5" fill="#32cd32"/>
<rect x="710" y="82" width="1" height="26" fill="#ff4500"/>
<rect x="708" y="99" width="5" height="6" fill="#ff4500"/>
<rect x="718" y="89" width="1" height="22" fill="#ff4500"/>
<rect x="716" y="101" width="5" height="2" fill="#ff4500"/>
<rect x="726" y="92" width="1" height="15" fill="#32cd32"/>
<rect x="724" y="101" width="5" height="3" fill="#32cd32"/>
<rect x="734" y="68" width="1" height="59" fill="#32cd32"/>
<rect x="732" y="98" width="5" height="4" fill="#32cd32"/>
<rect x="742" y="70" width="1" height="35" fill="#ff4500"/>
<rect x="740" y="71" width="5" height="32" fill="#ff4500"/>
<rect x="750" y="69" width="1" height="77" fill="#32cd32"/>
<rect x="748" y="71" width="5" height="71" fill="#32cd32"/>
<rect x="758" y="126" width="1" height="26" fill="#ff4500"/>
<rect x="756" y="134" width="5" height="9" fill="#ff4500"/>
<rect x="766" y="124" width="1" height="21" fill="#ff4500"/>
<rect x="764" y="131" width="5" height="9" fill="#ff4500"/>
<rect x="774" y="109" width="1" height="34" fill="#32cd32"/>
<rect x="772" y="131" width="5" height="6" fill="#32cd32"/>
<rect x="782" y="122" width="1" height="48" fill="#32cd32"/>
<rect x="780" y="125" width="5" height="31" fill="#32cd32"/>
<rect x="790" y="121" width="1" height="36" fill="#ff4500"/>
<rect x="788" y="132" width="5" height="24" fill="#ff4500"/>
<rect x="798" y="133" width="1" height="15" fill="#32cd32"/>
<rect x="796" y="138" width="5" height="8" fill="#32cd32"/>
<rect x="806" y="140" width="1" height="40" fill="#32cd32"/>
<rect x="804" y="145" width="5" height="33" fill="#32cd32"/>
<rect x="814" y="174" width="1" height="24" fill="#32cd32"/>
<rect x="812" y="182" width="5" height="12" fill="#32cd32"/>
<rect x="822" y="173" width="1" height="44" fill="#32cd32"/>
<rect x="820" y="193" width="5" height="18" fill="#32cd32"/>
<rect x="830" y="185" width="1" height="28" fill="#ff4500"/>
<rect x="828" y="194" width="5" height="9" fill="#ff4500"/>
<rect x="838" y="169" width="1" height="37" fill="#32cd32"/>
<rect x="836" y="194" width="5" height="4" fill="#32cd32"/>
<rect x="846" y="188" width="1" height="19" fill="#ff4500"/>
<rect x="844" y="197" width="5" height="8" fill="#ff4500"/>
<rect x="854" y="191" width="1" height="19" fill="#32cd32"/>
<rect x="852" y="197" width="5" height="1" fill="#32cd32"/>
<rect x="862" y="259" width="1" height="90" fill="#32cd32"/>
<rect x="860" y="277" width="5" height="53" fill="#32cd32"/>
<rect x="870" y="316" width="1" height="52" fill="#32cd32"/>
<rect x="868" y="330" width="5" height="13" fill="#32cd32"/>
<rect x="878" y="302" width="1" height="20" fill="#ff4500"/>
<rect x="876" y="314" width="5" height="5" fill="#ff4500"/>
<rect x="886" y="297" width="1" height="40" fill="#ff4500"/>
<rect x="884" y="313" width="5" height="2" fill="#ff4500"/>
<rect x="894" y="304" width="1" height="47" fill="#ff4500"/>
<rect x="892" y="314" width="5" height="35" fill="#ff4500"/>
<rect x="902" y="314" width="1" height="38" fill="#32cd32"/>
<rect x="900" y="314" width="5" height="30" fill="#32cd32"/>
<rect x="910" y="345" width="1" height="53" fill="#32cd32"/>
<rect x="908" y="356" width="5" height="34" fill="#32cd32"/>
<rect x="918" y="352" width="1" height="40" fill="#ff4500"/>
<rect x="916" y="382" width="5" height="8" fill="#ff4500"/>
<rect x="926" y="311" width="1" height="51" fill="#ff4500"/>
<rect x="924" y="347" width="5" height="4" fill="#ff4500"/>
<rect x="934" y="298" width="1" height="104" fill="#ff4500"/>
<rect x="932" y="316" width="5" height="32" fill="#ff4500"/>
<rect x="942" y="327" width="1" height="20" fill="#32cd32"/>
<rect x="940" y="338" width="5" height="5" fill="#32cd32"/>
<rect x="950" y="339" width="1" height="22" fill="#32cd32"/>
<rect x="948" y="342" width="5" height="6" fill="#32cd32"/>
<rect x="958" y="330" width="1" height="36" fill="#ff4500"/>
<rect x="956" y="346" width="5" height="9" fill="#ff4500"/>
<rect x="966" y="331" width="1" height="29" fill="#32cd32"/>
<rect x="964" y="346" width="5" height="14" fill="#32cd32"/>
<rect x="974" y="325" width="1" height="17" fill="#ff4500"/>
<rect x="972" y="331" width="5" height="4" fill="#ff4500"/>
<rect x="982" y="297" width="1" height="36" fill="#ff4500"/>
<rect x="980" y="314" width="5" height="18" fill="#ff4500"/>
<rect x="990" y="323" width="1" height="19" fill="#ff4500"/>
<rect x="988" y="326" width="5" height="2" fill="#ff4500"/>
<rect x="998" y="316" width="1" height="17" fill="#ff4500"/>
<rect x="996" y="320" width="5" height="7" fill="#ff4500"/>
<rect x="1006" y="314" width="1" height="58" fill="#32cd32"/>
<rect x="1004" y="315" width="5" height="47" fill="#32cd32"/>
<rect x="1014" y="355" width="1" height="28" fill="#32cd32"/>
<rect x="1012" y="361" width="5" height="10" fill="#32cd32"/>
<rect x="1022" y="366" width="1" height="44" fill="#32cd32"/>
<rect x="1020" y="368" width="5" height="23" fill="#32cd32"/>
<rect x="1030" y="384" width="1" height="19" fill="#ff4500"/>
<rect x="1028" y="388" width="5" height="3" fill="#ff4500"/>
<rect x="1038" y="338" width="1" height="49" fill="#ff4500"/>
<rect x="1036" y="342" width="5" height="41" fill="#ff4500"/>
<rect x="1046" y="342" width="1" height="25" fill="#32cd32"/>
<rect x="1044" y="342" width="5" height="25" fill="#32cd32"/>
<rect x="1054" y="356" width="1" height="20" fill="#32cd32"/>
<rect x="1052" y="363" width="5" height="2" fill="#32cd32"/>
<rect x="1062" y="363" width="1" height="24" fill="#32cd32"/>
<rect x="1060" y="363" width="5" height="6" fill="#32cd32"/>
<rect x="1070" y="376" width="1" height="37" fill="#32cd32"/>
<rect x="1068" y="379" width="5" height="19" fill="#32cd32"/>
<rect x="1078" y="390" width="1" height="20" fill="#32cd32"/>
<rect x="1076" y="397" width="5" height="10" fill="#32cd32"/>
<rect x="1086" y="377" width="1" height="29" fill="#32cd32"/>
<rect x="1084" y="397" width="5" height="9" fill="#32cd32"/>
<rect x="1094" y="385" width="1" height="24" fill="#ff4500"/>
<rect x="1092" y="399" width="5" height="5" fill="#ff4500"/>
<rect x="1102" y="392" width="1" height="33" fill="#32cd32"/>
<rect x="1100" y="396" width="5" height="5" fill="#32cd32"/>
<rect x="1110" y="363" width="1" height="40" fill="#ff4500"/>
<rect x="1108" y="377" width="5" height="25" fill="#ff4500"/>
<rect x="1118" y="349" width="1" height="30" fill="#ff4500"/>
<rect x="1116" y="351" width="5" height="28" fill="#ff4500"/>
<rect x="1126" y="347" width="1" height="30" fill="#32cd32"/>
<rect x="1124" y="351" width="5" height="15" fill="#32cd32"/>
<rect x="1134" y="362" width="1" height="15" fill="#ff4500"/>
<rect x="1132" y="366" width="5" height="7" fill="#ff4500"/>
<rect x="1142" y="339" width="1" height="30" fill="#ff4500"/>
<rect x="1140" y="364" width="5" height="3" fill="#ff4500"/>
<rect x="1150" y="363" width="1" height="37" fill="#32cd32"/>
<rect x="1148" y="363" width="5" height="26" fill="#32cd32"/>
<rect x="1158" y="365" width="1" height="30" fill="#ff4500"/>
<rect x="1156" y="369" width="5" height="20" fill="#ff4500"/>
<rect x="1166" y="349" width="1" height="31" fill="#ff4500"/>
<rect x="1164" y="370" width="5" height="4" fill="#ff4500"/>
<rect x="1174" y="361" width="1" height="26" fill="#32cd32"/>
<rect x="1172" y="370" width="5" height="14" fill="#32cd32"/>
<rect x="1182" y="345" width="1" height="47" fill="#32cd32"/>
<rect x="1180" y="369" width="5" height="13" fill="#32cd32"/>
<rect x="1190" y="363" width="1" height="22" fill="#ff4500"/>
<rect x="1188" y="372" width="5" height="10" fill="#ff4500"/>
<rect x="1198" y="369" width="1" height="33" fill="#32cd32"/>
<rect x="1196" y="373" width="5" height="18" fill="#32cd32"/>
<rect x="1206" y="387" width="1" height="14" fill="#ff4500"/>
<rect x="1204" y="388" width="5" height="4" fill="#ff4500"/>
<rect x="1214" y="368" width="1" height="20" fill="#32cd32"/>
<rect x="1212" y="370" width="5" height="8" fill="#32cd32"/>
<rect x="1222" y="369" width="1" height="28" fill="#32cd32"/>
<rect x="1220" y="377" width="5" height="19" fill="#32cd32"/>
<rect x="1230" y="390" width="1" height="20" fill="#ff4500"/>
<rect x="1228" y="393" width="5" height="1" fill="#ff4500"/>
<rect x="1238" y="392" width="1" height="23" fill="#32cd32"/>
<rect x="1236" y="393" width="5" height="21" fill="#32cd32"/>
<rect x="1246" y="372" width="1" height="36" fill="#ff4500"/>
<rect x="1244" y="377" width="5" height="24" fill="#ff4500"/>
<rect x="1254" y="374" width="1" height="19" fill="#32cd32"/>
<rect x="1252" y="377" width="5" height="9" fill="#32cd32"/>
<rect x="1262" y="329" width="1" height="52" fill="#ff4500"/>
<rect x="1260" y="335" width="5" height="46" fill="#ff4500"/>
<rect x="1270" y="312" width="1" height="26" fill="#ff4500"/>
<rect x="1268" y="319" width="5" height="17" fill="#ff4500"/>
<rect x="1278" y="323" width="1" height="19" fill="#32cd32"/>
<rect x="1276" y="325" width="5" height="13" fill="#32cd32"/>
<rect x="1286" y="330" width="1" height="11" fill="#ff4500"/>
<rect x="1284" y="336" width="5" height="2" fill="#ff4500"/>
<rect x="1294" y="331" width="1" height="30" fill="#ff4500"/>
<rect x="1292" y="331" width="5" height="4" fill="#ff4500"/>
<rect x="1302" y="329" width="1" height="19" fill="#32cd32"/>
<rect x="1300" y="331" width="5" height="10" fill="#32cd32"/>
<rect x="1310" y="327" width="1" height="21" fill="#32cd32"/>
<rect x="1308" y="336" width="5" height="10" fill="#32cd32"/>
<rect x="1318" y="340" width="1" height="22" fill="#32cd32"/>
<rect x="1316" y="345" width="5" height="11" fill="#32cd32"/>
<rect x="1326" y="334" width="1" height="27" fill="#32cd32"/>
<rect x="1324" y="353" width="5" height="6" fill="#32cd32"/>
<rect x="1334" y="343" width="1" height="17" fill="#ff4500"/>
<rect x="1332" y="350" width="5" height="10" fill="#ff4500"/>
</g>
<path d="M1346 44h11v1h-1v1h-1v1h-1v1h-1v1h-1v1h-1v-1h-1v-1h-1v-1h-1v-1h-1v-1h-1z" fill="#c0c0c0"/>
<path d="M9 56 L18 56 L13.5 51.5 Z" fill="#000" shape-rendering="geometricPrecision"/>
<text y="58" font-size="12.5" fill="#000" stroke="#000" stroke-width="0.2"><tspan x="23.8" textLength="79.3" lengthAdjust="spacingAndGlyphs">CHINA300-,H4</tspan> <tspan x="110.6" textLength="39.4" lengthAdjust="spacingAndGlyphs">3636.4</tspan> <tspan x="153.6" textLength="39.4" lengthAdjust="spacingAndGlyphs">3662.5</tspan> <tspan x="196.6" textLength="39.4" lengthAdjust="spacingAndGlyphs">3636.4</tspan> <tspan x="239.6" textLength="39.4" lengthAdjust="spacingAndGlyphs">3650.4</tspan></text>
<g id="oct">
<rect x="77" y="66" width="147" height="27" fill="#ffffff"/>
<rect x="9" y="66" width="68" height="28" fill="url(#gbtn)"/>
<rect x="224" y="66" width="68" height="28" fill="url(#gbtn)"/>
<rect x="9" y="93" width="141" height="49" fill="url(#gpan)"/>
<rect x="152" y="93" width="140" height="49" fill="url(#gpan)"/>
<rect x="13" y="92" width="60" height="1" fill="#b41414"/>
<rect x="13" y="93" width="60" height="1" fill="#ea5a5a"/>
<rect x="228" y="92" width="60" height="1" fill="#b41414"/>
<rect x="228" y="93" width="60" height="1" fill="#ea5a5a"/>
<rect x="9" y="66" width="1" height="76" fill="#cc2626"/>
<rect x="291" y="66" width="1" height="76" fill="#cc2626"/>
<rect x="149" y="94" width="1" height="48" fill="#b81414"/>
<rect x="152" y="94" width="1" height="48" fill="#b81414"/>
<rect x="9" y="141" width="141" height="1" fill="#a00404"/>
<rect x="152" y="141" width="140" height="1" fill="#a00404"/>
<rect x="76" y="66" width="1" height="28" fill="#c41a1a"/>
<rect x="224" y="66" width="1" height="28" fill="#c41a1a"/>
<rect x="76" y="93" width="149" height="1" fill="#c41a1a"/>
<rect x="9" y="66" width="68" height="1" fill="#e04040"/>
<rect x="224" y="66" width="68" height="1" fill="#e04040"/>
<rect x="79" y="66" width="143" height="25" fill="#abadb3"/>
<rect x="80" y="67" width="141" height="23" fill="#ffffff"/>
<rect x="80" y="67" width="23" height="23" fill="url(#gspin)"/>
<rect x="198" y="67" width="23" height="23" fill="url(#gspin)"/>
<rect x="103" y="67" width="1" height="23" fill="#abadb3"/>
<rect x="197" y="67" width="1" height="23" fill="#abadb3"/>
<path d="M87.8 76.8 L95.8 76.8 L91.8 81 Z" fill="#5a68b8" shape-rendering="geometricPrecision"/>
<path d="M205.5 80 L213.5 80 L209.5 76 Z" fill="#5a68b8" shape-rendering="geometricPrecision"/>
<text x="163.3" y="84.3" font-size="15.8" fill="#000" stroke="#000" stroke-width="0.2" textLength="30.8" lengthAdjust="spacingAndGlyphs">1.00</text>
<text x="26.5" y="85" font-size="15.3" fill="#fff" textLength="32" lengthAdjust="spacingAndGlyphs">SELL</text>
<text x="243.5" y="85" font-size="15.3" fill="#fff" textLength="28" lengthAdjust="spacingAndGlyphs">BUY</text>
<text y="130.5" font-size="15" fill="#fff"><tspan x="39.5" textLength="35" lengthAdjust="spacingAndGlyphs" font-size="15" font-weight="bold">3648</tspan><tspan x="78 87.6" y="131" font-size="40.5">.9</tspan></text>
<text y="130.5" font-size="15" fill="#fff"><tspan x="181.5" textLength="35" lengthAdjust="spacingAndGlyphs" font-size="15" font-weight="bold">3654</tspan><tspan x="221 231.6" y="131" font-size="40.5">.5</tspan></text>
</g>
<text y="146" font-size="53" fill="#ff2010" font-family='"Liberation Sans", "Noto Sans CJK SC", sans-serif'><tspan x="1064" textLength="253" lengthAdjust="spacing">多空转折点</tspan><tspan x="1316" y="142.5" font-size="57" textLength="156.7" lengthAdjust="spacingAndGlyphs">3676.5</tspan></text>
<rect x="1670" y="81" width="2" height="1" fill="#000"/>
<text x="1675.6" y="86" font-size="12.5" fill="#000" stroke="#000" stroke-width="0.2" textLength="39.4" lengthAdjust="spacingAndGlyphs">4111.0</text>
<rect x="1670" y="130" width="2" height="1" fill="#000"/>
<text x="1675.6" y="135" font-size="12.5" fill="#000" stroke="#000" stroke-width="0.2" textLength="39.4" lengthAdjust="spacingAndGlyphs">4027.0</text>
<rect x="1670" y="179" width="2" height="1" fill="#000"/>
<text x="1675.6" y="184" font-size="12.5" fill="#000" stroke="#000" stroke-width="0.2" textLength="39.4" lengthAdjust="spacingAndGlyphs">3943.5</text>
<rect x="1670" y="228" width="2" height="1" fill="#000"/>
<text x="1675.6" y="233" font-size="12.5" fill="#000" stroke="#000" stroke-width="0.2" textLength="39.4" lengthAdjust="spacingAndGlyphs">3860.0</text>
<rect x="1670" y="277" width="2" height="1" fill="#000"/>
<text x="1675.6" y="282" font-size="12.5" fill="#000" stroke="#000" stroke-width="0.2" textLength="39.4" lengthAdjust="spacingAndGlyphs">3776.5</text>
<rect x="1670" y="326" width="2" height="1" fill="#000"/>
<text x="1675.6" y="331" font-size="12.5" fill="#000" stroke="#000" stroke-width="0.2" textLength="39.4" lengthAdjust="spacingAndGlyphs">3692.5</text>
<rect x="1670" y="375" width="2" height="1" fill="#000"/>
<text x="1675.6" y="380" font-size="12.5" fill="#000" stroke="#000" stroke-width="0.2" textLength="39.4" lengthAdjust="spacingAndGlyphs">3608.5</text>
<rect x="1670" y="424" width="2" height="1" fill="#000"/>
<rect x="1670" y="473" width="2" height="1" fill="#000"/>
<text x="1675.6" y="478" font-size="12.5" fill="#000" stroke="#000" stroke-width="0.2" textLength="39.4" lengthAdjust="spacingAndGlyphs">3440.5</text>
<rect x="1670" y="522" width="2" height="1" fill="#000"/>
<text x="1675.6" y="527" font-size="12.5" fill="#000" stroke="#000" stroke-width="0.2" textLength="39.4" lengthAdjust="spacingAndGlyphs">3356.5</text>
<rect x="1671" y="169" width="49" height="14" fill="#ff0000"/>
<text x="1675.6" y="181" font-size="12.5" fill="#fff" textLength="39.4" lengthAdjust="spacingAndGlyphs">3949.8</text>
<rect x="1671" y="218" width="49" height="14" fill="#ff4500"/>
<text x="1675.6" y="230" font-size="12.5" fill="#fff" textLength="39.4" lengthAdjust="spacingAndGlyphs">3866.8</text>
<rect x="1671" y="329" width="49" height="14" fill="#00ff7f"/>
<text x="1675.6" y="341" font-size="12.5" fill="#fff" textLength="39.4" lengthAdjust="spacingAndGlyphs">3676.5</text>
<rect x="1671" y="343" width="49" height="14" fill="#000000"/>
<text x="1675.6" y="355" font-size="12.5" fill="#fff" textLength="39.4" lengthAdjust="spacingAndGlyphs">3650.4</text>
<rect x="1671" y="418" width="49" height="14" fill="#0000ff"/>
<text x="1675.6" y="430" font-size="12.5" fill="#fff" textLength="39.4" lengthAdjust="spacingAndGlyphs">3524.5</text>
<rect x="1671" y="521" width="49" height="14" fill="#0000ff"/>
<text x="1675.6" y="533" font-size="12.5" fill="#fff" textLength="39.4" lengthAdjust="spacingAndGlyphs">3348.5</text>
<g clip-path="url(#cmacd)">
<rect x="6" y="566" width="1" height="11" fill="#c0c0c0"/>
<rect x="14" y="566" width="1" height="11" fill="#c0c0c0"/>
<rect x="22" y="564" width="1" height="13" fill="#c0c0c0"/>
<rect x="30" y="564" width="1" height="13" fill="#c0c0c0"/>
<rect x="38" y="564" width="1" height="13" fill="#c0c0c0"/>
<rect x="46" y="563" width="1" height="14" fill="#c0c0c0"/>
<rect x="54" y="562" width="1" height="15" fill="#c0c0c0"/>
<rect x="62" y="562" width="1" height="15" fill="#c0c0c0"/>
<rect x="70" y="562" width="1" height="15" fill="#c0c0c0"/>
<rect x="78" y="561" width="1" height="16" fill="#c0c0c0"/>
<rect x="86" y="560" width="1" height="17" fill="#c0c0c0"/>
<rect x="94" y="560" width="1" height="17" fill="#c0c0c0"/>
<rect x="102" y="560" width="1" height="17" fill="#c0c0c0"/>
<rect x="110" y="560" width="1" height="17" fill="#c0c0c0"/>
<rect x="118" y="559" width="1" height="18" fill="#c0c0c0"/>
<rect x="126" y="556" width="1" height="21" fill="#c0c0c0"/>
<rect x="134" y="553" width="1" height="24" fill="#c0c0c0"/>
<rect x="142" y="551" width="1" height="26" fill="#c0c0c0"/>
<rect x="150" y="550" width="1" height="27" fill="#c0c0c0"/>
<rect x="158" y="548" width="1" height="29" fill="#c0c0c0"/>
<rect x="166" y="548" width="1" height="29" fill="#c0c0c0"/>
<rect x="174" y="548" width="1" height="29" fill="#c0c0c0"/>
<rect x="182" y="548" width="1" height="29" fill="#c0c0c0"/>
<rect x="190" y="548" width="1" height="29" fill="#c0c0c0"/>
<rect x="198" y="548" width="1" height="29" fill="#c0c0c0"/>
<rect x="206" y="548" width="1" height="29" fill="#c0c0c0"/>
<rect x="214" y="548" width="1" height="29" fill="#c0c0c0"/>
<rect x="222" y="548" width="1" height="29" fill="#c0c0c0"/>
<rect x="230" y="548" width="1" height="29" fill="#c0c0c0"/>
<rect x="238" y="548" width="1" height="29" fill="#c0c0c0"/>
<rect x="246" y="548" width="1" height="29" fill="#c0c0c0"/>
<rect x="254" y="548" width="1" height="29" fill="#c0c0c0"/>
<rect x="262" y="548" width="1" height="29" fill="#c0c0c0"/>
<rect x="270" y="555" width="1" height="22" fill="#c0c0c0"/>
<rect x="278" y="558" width="1" height="19" fill="#c0c0c0"/>
<rect x="286" y="561" width="1" height="16" fill="#c0c0c0"/>
<rect x="294" y="562" width="1" height="15" fill="#c0c0c0"/>
<rect x="302" y="563" width="1" height="14" fill="#c0c0c0"/>
<rect x="310" y="564" width="1" height="13" fill="#c0c0c0"/>
<rect x="318" y="565" width="1" height="12" fill="#c0c0c0"/>
<rect x="326" y="566" width="1" height="11" fill="#c0c0c0"/>
<rect x="334" y="568" width="1" height="9" fill="#c0c0c0"/>
<rect x="342" y="569" width="1" height="8" fill="#c0c0c0"/>
<rect x="350" y="569" width="1" height="8" fill="#c0c0c0"/>
<rect x="358" y="569" width="1" height="8" fill="#c0c0c0"/>
<rect x="366" y="568" width="1" height="9" fill="#c0c0c0"/>
<rect x="374" y="566" width="1" height="11" fill="#c0c0c0"/>
<rect x="382" y="566" width="1" height="11" fill="#c0c0c0"/>
<rect x="390" y="566" width="1" height="11" fill="#c0c0c0"/>
<rect x="398" y="566" width="1" height="11" fill="#c0c0c0"/>
<rect x="406" y="566" width="1" height="11" fill="#c0c0c0"/>
<rect x="414" y="566" width="1" height="11" fill="#c0c0c0"/>
<rect x="422" y="566" width="1" height="11" fill="#c0c0c0"/>
<rect x="430" y="566" width="1" height="11" fill="#c0c0c0"/>
<rect x="438" y="566" width="1" height="11" fill="#c0c0c0"/>
<rect x="446" y="569" width="1" height="8" fill="#c0c0c0"/>
<rect x="454" y="571" width="1" height="6" fill="#c0c0c0"/>
<rect x="462" y="573" width="1" height="4" fill="#c0c0c0"/>
<rect x="470" y="575" width="1" height="2" fill="#c0c0c0"/>
<rect x="510" y="575" width="1" height="2" fill="#c0c0c0"/>
<rect x="518" y="574" width="1" height="3" fill="#c0c0c0"/>
<rect x="526" y="571" width="1" height="6" fill="#c0c0c0"/>
<rect x="534" y="568" width="1" height="9" fill="#c0c0c0"/>
<rect x="542" y="566" width="1" height="11" fill="#c0c0c0"/>
<rect x="550" y="564" width="1" height="13" fill="#c0c0c0"/>
<rect x="558" y="563" width="1" height="14" fill="#c0c0c0"/>
<rect x="566" y="561" width="1" height="16" fill="#c0c0c0"/>
<rect x="574" y="560" width="1" height="17" fill="#c0c0c0"/>
<rect x="582" y="558" width="1" height="19" fill="#c0c0c0"/>
<rect x="590" y="557" width="1" height="20" fill="#c0c0c0"/>
<rect x="598" y="557" width="1" height="20" fill="#c0c0c0"/>
<rect x="606" y="556" width="1" height="21" fill="#c0c0c0"/>
<rect x="614" y="556" width="1" height="21" fill="#c0c0c0"/>
<rect x="622" y="557" width="1" height="20" fill="#c0c0c0"/>
<rect x="630" y="557" width="1" height="20" fill="#c0c0c0"/>
<rect x="638" y="559" width="1" height="18" fill="#c0c0c0"/>
<rect x="646" y="560" width="1" height="17" fill="#c0c0c0"/>
<rect x="654" y="562" width="1" height="15" fill="#c0c0c0"/>
<rect x="662" y="564" width="1" height="13" fill="#c0c0c0"/>
<rect x="670" y="565" width="1" height="12" fill="#c0c0c0"/>
<rect x="678" y="566" width="1" height="11" fill="#c0c0c0"/>
<rect x="686" y="567" width="1" height="10" fill="#c0c0c0"/>
<rect x="694" y="566" width="1" height="11" fill="#c0c0c0"/>
<rect x="702" y="566" width="1" height="11" fill="#c0c0c0"/>
<rect x="710" y="566" width="1" height="11" fill="#c0c0c0"/>
<rect x="718" y="566" width="1" height="11" fill="#c0c0c0"/>
<rect x="726" y="566" width="1" height="11" fill="#c0c0c0"/>
<rect x="734" y="566" width="1" height="11" fill="#c0c0c0"/>
<rect x="742" y="566" width="1" height="11" fill="#c0c0c0"/>
<rect x="750" y="567" width="1" height="10" fill="#c0c0c0"/>
<rect x="758" y="569" width="1" height="8" fill="#c0c0c0"/>
<rect x="766" y="570" width="1" height="7" fill="#c0c0c0"/>
<rect x="774" y="571" width="1" height="6" fill="#c0c0c0"/>
<rect x="782" y="573" width="1" height="4" fill="#c0c0c0"/>
<rect x="790" y="574" width="1" height="3" fill="#c0c0c0"/>
<rect x="798" y="575" width="1" height="2" fill="#c0c0c0"/>
<rect x="822" y="576" width="1" height="4" fill="#c0c0c0"/>
<rect x="830" y="576" width="1" height="6" fill="#c0c0c0"/>
<rect x="838" y="576" width="1" height="6" fill="#c0c0c0"/>
<rect x="846" y="576" width="1" height="7" fill="#c0c0c0"/>
<rect x="854" y="576" width="1" height="8" fill="#c0c0c0"/>
<rect x="862" y="576" width="1" height="12" fill="#c0c0c0"/>
<rect x="870" y="576" width="1" height="17" fill="#c0c0c0"/>
<rect x="878" y="576" width="1" height="19" fill="#c0c0c0"/>
<rect x="886" y="576" width="1" height="20" fill="#c0c0c0"/>
<rect x="894" y="576" width="1" height="22" fill="#c0c0c0"/>
<rect x="902" y="576" width="1" height="23" fill="#c0c0c0"/>
<rect x="910" y="576" width="1" height="25" fill="#c0c0c0"/>
<rect x="918" y="576" width="1" height="27" fill="#c0c0c0"/>
<rect x="926" y="576" width="1" height="25" fill="#c0c0c0"/>
<rect x="934" y="576" width="1" height="24" fill="#c0c0c0"/>
<rect x="942" y="576" width="1" height="24" fill="#c0c0c0"/>
<rect x="950" y="576" width="1" height="23" fill="#c0c0c0"/>
<rect x="958" y="576" width="1" height="23" fill="#c0c0c0"/>
<rect x="966" y="576" width="1" height="22" fill="#c0c0c0"/>
<rect x="974" y="576" width="1" height="21" fill="#c0c0c0"/>
<rect x="982" y="576" width="1" height="19" fill="#c0c0c0"/>
<rect x="990" y="576" width="1" height="18" fill="#c0c0c0"/>
<rect x="998" y="576" width="1" height="17" fill="#c0c0c0"/>
<rect x="1006" y="576" width="1" height="16" fill="#c0c0c0"/>
<rect x="1014" y="576" width="1" height="17" fill="#c0c0c0"/>
<rect x="1022" y="576" width="1" height="17" fill="#c0c0c0"/>
<rect x="1030" y="576" width="1" height="17" fill="#c0c0c0"/>
<rect x="1038" y="576" width="1" height="17" fill="#c0c0c0"/>
<rect x="1046" y="576" width="1" height="16" fill="#c0c0c0"/>
<rect x="1054" y="576" width="1" height="15" fill="#c0c0c0"/>
<rect x="1062" y="576" width="1" height="15" fill="#c0c0c0"/>
<rect x="1070" y="576" width="1" height="15" fill="#c0c0c0"/>
<rect x="1078" y="576" width="1" height="15" fill="#c0c0c0"/>
<rect x="1086" y="576" width="1" height="15" fill="#c0c0c0"/>
<rect x="1094" y="576" width="1" height="15" fill="#c0c0c0"/>
<rect x="1102" y="576" width="1" height="14" fill="#c0c0c0"/>
<rect x="1110" y="576" width="1" height="14" fill="#c0c0c0"/>
<rect x="1118" y="576" width="1" height="12" fill="#c0c0c0"/>
<rect x="1126" y="576" width="1" height="11" fill="#c0c0c0"/>
<rect x="1134" y="576" width="1" height="10" fill="#c0c0c0"/>
<rect x="1142" y="576" width="1" height="9" fill="#c0c0c0"/>
<rect x="1150" y="576" width="1" height="8" fill="#c0c0c0"/>
<rect x="1158" y="576" width="1" height="8" fill="#c0c0c0"/>
<rect x="1166" y="576" width="1" height="8" fill="#c0c0c0"/>
<rect x="1174" y="576" width="1" height="7" fill="#c0c0c0"/>
<rect x="1182" y="576" width="1" height="7" fill="#c0c0c0"/>
<rect x="1190" y="576" width="1" height="6" fill="#c0c0c0"/>
<rect x="1198" y="576" width="1" height="7" fill="#c0c0c0"/>
<rect x="1206" y="576" width="1" height="7" fill="#c0c0c0"/>
<rect x="1214" y="576" width="1" height="6" fill="#c0c0c0"/>
<rect x="1222" y="576" width="1" height="6" fill="#c0c0c0"/>
<rect x="1230" y="576" width="1" height="7" fill="#c0c0c0"/>
<rect x="1238" y="576" width="1" height="7" fill="#c0c0c0"/>
<rect x="1246" y="576" width="1" height="7" fill="#c0c0c0"/>
<rect x="1254" y="576" width="1" height="6" fill="#c0c0c0"/>
<rect x="1262" y="576" width="1" height="4" fill="#c0c0c0"/>
<rect x="1270" y="576" width="1" height="2" fill="#c0c0c0"/>
<rect x="1302" y="575" width="1" height="2" fill="#c0c0c0"/>
<rect x="1310" y="574" width="1" height="3" fill="#c0c0c0"/>
<rect x="1318" y="575" width="1" height="2" fill="#c0c0c0"/>
<rect x="1326" y="575" width="1" height="2" fill="#c0c0c0"/>
<rect x="1334" y="575" width="1" height="2" fill="#c0c0c0"/>
<path fill="#ff0000" d="M198 548h3v1h-3zM204 548h3v1h-3zM210 548h3v1h-3zM216 548h3v1h-3zM222 548h3v1h-3zM228 548h3v1h-3zM234 548h3v1h-3zM240 548h3v1h-3zM246 548h3v1h-3zM252 548h3v1h-3zM258 548h3v1h-3zM264 548h3v1h-3zM192 549h3v1h-3zM270 549h3v1h-3zM276 549h3v1h-3zM282 549h1v1h-1zM186 550h3v1h-3zM283 550h2v1h-2zM288 550h1v1h-1zM180 551h3v1h-3zM289 551h2v1h-2zM174 552h3v1h-3zM294 552h3v1h-3zM163 553h2v1h-2zM168 553h3v1h-3zM300 553h3v1h-3zM157 554h2v1h-2zM162 554h1v1h-1zM306 554h3v1h-3zM156 555h1v1h-1zM150 556h3v1h-3zM312 556h3v1h-3zM630 556h3v1h-3zM636 556h3v1h-3zM642 556h3v1h-3zM648 556h3v1h-3zM145 557h2v1h-2zM619 557h2v1h-2zM624 557h3v1h-3zM654 557h3v1h-3zM126 558h3v1h-3zM132 558h3v1h-3zM138 558h3v1h-3zM144 558h1v1h-1zM318 558h3v1h-3zM612 558h3v1h-3zM618 558h1v1h-1zM660 558h3v1h-3zM666 558h1v1h-1zM102 559h3v1h-3zM108 559h3v1h-3zM114 559h3v1h-3zM120 559h3v1h-3zM324 559h1v1h-1zM606 559h3v1h-3zM667 559h2v1h-2zM672 559h3v1h-3zM78 560h3v1h-3zM84 560h3v1h-3zM90 560h3v1h-3zM96 560h3v1h-3zM325 560h2v1h-2zM330 560h1v1h-1zM595 560h2v1h-2zM600 560h3v1h-3zM678 560h3v1h-3zM54 561h3v1h-3zM60 561h3v1h-3zM66 561h3v1h-3zM72 561h3v1h-3zM331 561h2v1h-2zM336 561h1v1h-1zM589 561h2v1h-2zM594 561h1v1h-1zM684 561h3v1h-3zM690 561h1v1h-1zM43 562h2v1h-2zM48 562h3v1h-3zM337 562h2v1h-2zM588 562h1v1h-1zM691 562h2v1h-2zM696 562h3v1h-3zM30 563h3v1h-3zM36 563h3v1h-3zM42 563h1v1h-1zM342 563h3v1h-3zM582 563h3v1h-3zM702 563h3v1h-3zM19 564h2v1h-2zM24 564h3v1h-3zM348 564h3v1h-3zM354 564h1v1h-1zM577 564h2v1h-2zM708 564h3v1h-3zM714 564h1v1h-1zM12 565h3v1h-3zM18 565h1v1h-1zM355 565h2v1h-2zM360 565h3v1h-3zM576 565h1v1h-1zM715 565h2v1h-2zM720 565h3v1h-3zM726 565h3v1h-3zM732 565h3v1h-3zM738 565h3v1h-3zM744 565h3v1h-3zM750 565h3v1h-3zM756 565h3v1h-3zM762 565h1v1h-1zM6 566h3v1h-3zM366 566h3v1h-3zM372 566h3v1h-3zM378 566h3v1h-3zM384 566h3v1h-3zM390 566h3v1h-3zM396 566h3v1h-3zM402 566h3v1h-3zM408 566h3v1h-3zM414 566h3v1h-3zM420 566h3v1h-3zM426 566h3v1h-3zM432 566h3v1h-3zM438 566h3v1h-3zM444 566h3v1h-3zM450 566h3v1h-3zM456 566h3v1h-3zM571 566h2v1h-2zM763 566h2v1h-2zM768 566h3v1h-3zM774 566h3v1h-3zM462 567h3v1h-3zM570 567h1v1h-1zM780 567h3v1h-3zM786 567h1v1h-1zM468 568h3v1h-3zM474 568h1v1h-1zM565 568h2v1h-2zM787 568h2v1h-2zM792 568h3v1h-3zM475 569h2v1h-2zM480 569h3v1h-3zM564 569h1v1h-1zM798 569h3v1h-3zM486 570h3v1h-3zM558 570h3v1h-3zM804 570h3v1h-3zM810 570h1v1h-1zM492 571h3v1h-3zM498 571h1v1h-1zM552 571h3v1h-3zM811 571h2v1h-2zM816 571h1v1h-1zM499 572h2v1h-2zM504 572h1v1h-1zM546 572h3v1h-3zM817 572h2v1h-2zM505 573h2v1h-2zM540 573h3v1h-3zM822 573h3v1h-3zM510 574h3v1h-3zM516 574h3v1h-3zM522 574h3v1h-3zM528 574h3v1h-3zM534 574h3v1h-3zM828 574h3v1h-3zM834 574h1v1h-1zM835 575h2v1h-2zM840 575h1v1h-1zM1326 575h3v1h-3zM1332 575h2v1h-2zM841 576h2v1h-2zM1315 576h2v1h-2zM1320 576h3v1h-3zM846 577h3v1h-3zM1308 577h3v1h-3zM1314 577h1v1h-1zM852 578h3v1h-3zM858 578h1v1h-1zM1291 578h2v1h-2zM1296 578h3v1h-3zM1302 578h3v1h-3zM859 579h2v1h-2zM864 579h1v1h-1zM1284 579h3v1h-3zM1290 579h1v1h-1zM865 580h2v1h-2zM1267 580h2v1h-2zM1272 580h3v1h-3zM1278 580h3v1h-3zM870 581h2v1h-2zM1260 581h3v1h-3zM1266 581h1v1h-1zM872 582h1v1h-1zM1195 582h2v1h-2zM1200 582h3v1h-3zM1206 582h3v1h-3zM1212 582h3v1h-3zM1218 582h3v1h-3zM1224 582h3v1h-3zM1230 582h3v1h-3zM1236 582h3v1h-3zM1242 582h3v1h-3zM1248 582h3v1h-3zM1254 582h3v1h-3zM876 583h1v1h-1zM1188 583h3v1h-3zM1194 583h1v1h-1zM877 584h2v1h-2zM1171 584h2v1h-2zM1176 584h3v1h-3zM1182 584h3v1h-3zM882 585h3v1h-3zM1164 585h3v1h-3zM1170 585h1v1h-1zM888 586h1v1h-1zM1158 586h3v1h-3zM889 587h2v1h-2zM1140 587h3v1h-3zM1146 587h3v1h-3zM1152 587h3v1h-3zM894 588h3v1h-3zM1134 588h3v1h-3zM900 589h1v1h-1zM1116 589h3v1h-3zM1122 589h3v1h-3zM1128 589h3v1h-3zM901 590h2v1h-2zM1099 590h2v1h-2zM1104 590h3v1h-3zM1110 590h3v1h-3zM906 591h3v1h-3zM1051 591h2v1h-2zM1056 591h3v1h-3zM1062 591h3v1h-3zM1068 591h3v1h-3zM1074 591h3v1h-3zM1080 591h3v1h-3zM1086 591h3v1h-3zM1092 591h3v1h-3zM1098 591h1v1h-1zM912 592h3v1h-3zM1038 592h3v1h-3zM1044 592h3v1h-3zM1050 592h1v1h-1zM918 593h3v1h-3zM1027 593h2v1h-2zM1032 593h3v1h-3zM924 594h1v1h-1zM1020 594h3v1h-3zM1026 594h1v1h-1zM925 595h2v1h-2zM1014 595h3v1h-3zM930 596h3v1h-3zM1003 596h2v1h-2zM1008 596h3v1h-3zM936 597h3v1h-3zM996 597h3v1h-3zM1002 597h1v1h-1zM942 598h3v1h-3zM990 598h3v1h-3zM948 599h3v1h-3zM954 599h1v1h-1zM972 599h3v1h-3zM978 599h3v1h-3zM984 599h3v1h-3zM955 600h2v1h-2zM960 600h3v1h-3zM966 600h3v1h-3z"/>
</g>
<text y="559" font-size="12.5" fill="#000" stroke="#000" stroke-width="0.2"><tspan x="9.8" textLength="85.3" lengthAdjust="spacingAndGlyphs">MACD(12,26,9)</tspan> <tspan x="99.8" textLength="24" lengthAdjust="spacingAndGlyphs">9.41</tspan> <tspan x="127.3" textLength="26" lengthAdjust="spacingAndGlyphs">7.56</tspan></text>
<text x="1673.5" y="557" font-size="12.5" fill="#000" stroke="#000" stroke-width="0.2">124.3</text>
<text x="1673.5" y="581" font-size="12.5" fill="#000" stroke="#000" stroke-width="0.2">0.00</text>
<text x="1673.5" y="602" font-size="12.5" fill="#000" stroke="#000" stroke-width="0.2">-108.89</text>
<rect x="1670" y="545" width="1" height="1" fill="#000"/>
<rect x="1670" y="576" width="1" height="1" fill="#000"/>
<rect x="1670" y="604" width="1" height="1" fill="#000"/>
<rect x="1670" y="609" width="1" height="1" fill="#000"/>
<rect x="1670" y="735" width="1" height="1" fill="#000"/>
<g clip-path="url(#crsi)">
</g>
<path fill="#c0c0c0" d="M7 647h3v1h-3zM13 647h3v1h-3zM19 647h3v1h-3zM25 647h3v1h-3zM31 647h3v1h-3zM37 647h3v1h-3zM43 647h3v1h-3zM49 647h3v1h-3zM55 647h3v1h-3zM61 647h3v1h-3zM67 647h3v1h-3zM73 647h3v1h-3zM79 647h3v1h-3zM85 647h3v1h-3zM91 647h3v1h-3zM97 647h3v1h-3zM103 647h3v1h-3zM109 647h3v1h-3zM115 647h3v1h-3zM121 647h3v1h-3zM127 647h3v1h-3zM133 647h3v1h-3zM139 647h3v1h-3zM145 647h3v1h-3zM151 647h3v1h-3zM157 647h3v1h-3zM163 647h3v1h-3zM169 647h3v1h-3zM175 647h3v1h-3zM181 647h3v1h-3zM187 647h3v1h-3zM193 647h3v1h-3zM199 647h3v1h-3zM205 647h3v1h-3zM211 647h3v1h-3zM217 647h3v1h-3zM223 647h3v1h-3zM229 647h3v1h-3zM235 647h3v1h-3zM241 647h3v1h-3zM247 647h3v1h-3zM253 647h3v1h-3zM259 647h3v1h-3zM265 647h3v1h-3zM271 647h3v1h-3zM277 647h3v1h-3zM283 647h3v1h-3zM289 647h3v1h-3zM295 647h3v1h-3zM301 647h3v1h-3zM307 647h3v1h-3zM313 647h3v1h-3zM319 647h3v1h-3zM325 647h3v1h-3zM331 647h3v1h-3zM337 647h3v1h-3zM343 647h3v1h-3zM349 647h3v1h-3zM355 647h3v1h-3zM361 647h3v1h-3zM367 647h3v1h-3zM373 647h3v1h-3zM379 647h3v1h-3zM385 647h3v1h-3zM391 647h3v1h-3zM397 647h3v1h-3zM403 647h3v1h-3zM409 647h3v1h-3zM415 647h3v1h-3zM421 647h3v1h-3zM427 647h3v1h-3zM433 647h3v1h-3zM439 647h3v1h-3zM445 647h3v1h-3zM451 647h3v1h-3zM457 647h3v1h-3zM463 647h3v1h-3zM469 647h3v1h-3zM475 647h3v1h-3zM481 647h3v1h-3zM487 647h3v1h-3zM493 647h3v1h-3zM499 647h3v1h-3zM505 647h3v1h-3zM511 647h3v1h-3zM517 647h3v1h-3zM523 647h3v1h-3zM529 647h3v1h-3zM535 647h3v1h-3zM541 647h3v1h-3zM547 647h3v1h-3zM553 647h3v1h-3zM559 647h3v1h-3zM565 647h3v1h-3zM571 647h3v1h-3zM577 647h3v1h-3zM583 647h3v1h-3zM589 647h3v1h-3zM595 647h3v1h-3zM601 647h3v1h-3zM607 647h3v1h-3zM613 647h3v1h-3zM619 647h3v1h-3zM625 647h3v1h-3zM631 647h3v1h-3zM637 647h3v1h-3zM643 647h3v1h-3zM649 647h3v1h-3zM655 647h3v1h-3zM661 647h3v1h-3zM667 647h3v1h-3zM673 647h3v1h-3zM679 647h3v1h-3zM685 647h3v1h-3zM691 647h3v1h-3zM697 647h3v1h-3zM703 647h3v1h-3zM709 647h3v1h-3zM715 647h3v1h-3zM721 647h3v1h-3zM727 647h3v1h-3zM733 647h3v1h-3zM739 647h3v1h-3zM745 647h3v1h-3zM751 647h3v1h-3zM757 647h3v1h-3zM763 647h3v1h-3zM769 647h3v1h-3zM775 647h3v1h-3zM781 647h3v1h-3zM787 647h3v1h-3zM793 647h3v1h-3zM799 647h3v1h-3zM805 647h3v1h-3zM811 647h3v1h-3zM817 647h3v1h-3zM823 647h3v1h-3zM829 647h3v1h-3zM835 647h3v1h-3zM841 647h3v1h-3zM847 647h3v1h-3zM853 647h3v1h-3zM859 647h3v1h-3zM865 647h3v1h-3zM871 647h3v1h-3zM877 647h3v1h-3zM883 647h3v1h-3zM889 647h3v1h-3zM895 647h3v1h-3zM901 647h3v1h-3zM907 647h3v1h-3zM913 647h3v1h-3zM919 647h3v1h-3zM925 647h3v1h-3zM931 647h3v1h-3zM937 647h3v1h-3zM943 647h3v1h-3zM949 647h3v1h-3zM955 647h3v1h-3zM961 647h3v1h-3zM967 647h3v1h-3zM973 647h3v1h-3zM979 647h3v1h-3zM985 647h3v1h-3zM991 647h3v1h-3zM997 647h3v1h-3zM1003 647h3v1h-3zM1009 647h3v1h-3zM1015 647h3v1h-3zM1021 647h3v1h-3zM1027 647h3v1h-3zM1033 647h3v1h-3zM1039 647h3v1h-3zM1045 647h3v1h-3zM1051 647h3v1h-3zM1057 647h3v1h-3zM1063 647h3v1h-3zM1069 647h3v1h-3zM1075 647h3v1h-3zM1081 647h3v1h-3zM1087 647h3v1h-3zM1093 647h3v1h-3zM1099 647h3v1h-3zM1105 647h3v1h-3zM1111 647h3v1h-3zM1117 647h3v1h-3zM1123 647h3v1h-3zM1129 647h3v1h-3zM1135 647h3v1h-3zM1141 647h3v1h-3zM1147 647h3v1h-3zM1153 647h3v1h-3zM1159 647h3v1h-3zM1165 647h3v1h-3zM1171 647h3v1h-3zM1177 647h3v1h-3zM1183 647h3v1h-3zM1189 647h3v1h-3zM1195 647h3v1h-3zM1201 647h3v1h-3zM1207 647h3v1h-3zM1213 647h3v1h-3zM1219 647h3v1h-3zM1225 647h3v1h-3zM1231 647h3v1h-3zM1237 647h3v1h-3zM1243 647h3v1h-3zM1249 647h3v1h-3zM1255 647h3v1h-3zM1261 647h3v1h-3zM1267 647h3v1h-3zM1273 647h3v1h-3zM1279 647h3v1h-3zM1285 647h3v1h-3zM1291 647h3v1h-3zM1297 647h3v1h-3zM1303 647h3v1h-3zM1309 647h3v1h-3zM1315 647h3v1h-3zM1321 647h3v1h-3zM1327 647h3v1h-3zM1333 647h3v1h-3zM1339 647h3v1h-3zM1345 647h3v1h-3zM1351 647h3v1h-3zM1357 647h3v1h-3zM1363 647h3v1h-3zM1369 647h3v1h-3zM1375 647h3v1h-3zM1381 647h3v1h-3zM1387 647h3v1h-3zM1393 647h3v1h-3zM1399 647h3v1h-3zM1405 647h3v1h-3zM1411 647h3v1h-3zM1417 647h3v1h-3zM1423 647h3v1h-3zM1429 647h3v1h-3zM1435 647h3v1h-3zM1441 647h3v1h-3zM1447 647h3v1h-3zM1453 647h3v1h-3zM1459 647h3v1h-3zM1465 647h3v1h-3zM1471 647h3v1h-3zM1477 647h3v1h-3zM1483 647h3v1h-3zM1489 647h3v1h-3zM1495 647h3v1h-3zM1501 647h3v1h-3zM1507 647h3v1h-3zM1513 647h3v1h-3zM1519 647h3v1h-3zM1525 647h3v1h-3zM1531 647h3v1h-3zM1537 647h3v1h-3zM1543 647h3v1h-3zM1549 647h3v1h-3zM1555 647h3v1h-3zM1561 647h3v1h-3zM1567 647h3v1h-3zM1573 647h3v1h-3zM1579 647h3v1h-3zM1585 647h3v1h-3zM1591 647h3v1h-3zM1597 647h3v1h-3zM1603 647h3v1h-3zM1609 647h3v1h-3zM1615 647h3v1h-3zM1621 647h3v1h-3zM1627 647h3v1h-3zM1633 647h3v1h-3zM1639 647h3v1h-3zM1645 647h3v1h-3zM1651 647h3v1h-3zM1657 647h3v1h-3zM1663 647h3v1h-3zM1669 647h1v1h-1z"/>
<path fill="#c0c0c0" d="M7 697h3v1h-3zM13 697h3v1h-3zM19 697h3v1h-3zM25 697h3v1h-3zM31 697h3v1h-3zM37 697h3v1h-3zM43 697h3v1h-3zM49 697h3v1h-3zM55 697h3v1h-3zM61 697h3v1h-3zM67 697h3v1h-3zM73 697h3v1h-3zM79 697h3v1h-3zM85 697h3v1h-3zM91 697h3v1h-3zM97 697h3v1h-3zM103 697h3v1h-3zM109 697h3v1h-3zM115 697h3v1h-3zM121 697h3v1h-3zM127 697h3v1h-3zM133 697h3v1h-3zM139 697h3v1h-3zM145 697h3v1h-3zM151 697h3v1h-3zM157 697h3v1h-3zM163 697h3v1h-3zM169 697h3v1h-3zM175 697h3v1h-3zM181 697h3v1h-3zM187 697h3v1h-3zM193 697h3v1h-3zM199 697h3v1h-3zM205 697h3v1h-3zM211 697h3v1h-3zM217 697h3v1h-3zM223 697h3v1h-3zM229 697h3v1h-3zM235 697h3v1h-3zM241 697h3v1h-3zM247 697h3v1h-3zM253 697h3v1h-3zM259 697h3v1h-3zM265 697h3v1h-3zM271 697h3v1h-3zM277 697h3v1h-3zM283 697h3v1h-3zM289 697h3v1h-3zM295 697h3v1h-3zM301 697h3v1h-3zM307 697h3v1h-3zM313 697h3v1h-3zM319 697h3v1h-3zM325 697h3v1h-3zM331 697h3v1h-3zM337 697h3v1h-3zM343 697h3v1h-3zM349 697h3v1h-3zM355 697h3v1h-3zM361 697h3v1h-3zM367 697h3v1h-3zM373 697h3v1h-3zM379 697h3v1h-3zM385 697h3v1h-3zM391 697h3v1h-3zM397 697h3v1h-3zM403 697h3v1h-3zM409 697h3v1h-3zM415 697h3v1h-3zM421 697h3v1h-3zM427 697h3v1h-3zM433 697h3v1h-3zM439 697h3v1h-3zM445 697h3v1h-3zM451 697h3v1h-3zM457 697h3v1h-3zM463 697h3v1h-3zM469 697h3v1h-3zM475 697h3v1h-3zM481 697h3v1h-3zM487 697h3v1h-3zM493 697h3v1h-3zM499 697h3v1h-3zM505 697h3v1h-3zM511 697h3v1h-3zM517 697h3v1h-3zM523 697h3v1h-3zM529 697h3v1h-3zM535 697h3v1h-3zM541 697h3v1h-3zM547 697h3v1h-3zM553 697h3v1h-3zM559 697h3v1h-3zM565 697h3v1h-3zM571 697h3v1h-3zM577 697h3v1h-3zM583 697h3v1h-3zM589 697h3v1h-3zM595 697h3v1h-3zM601 697h3v1h-3zM607 697h3v1h-3zM613 697h3v1h-3zM619 697h3v1h-3zM625 697h3v1h-3zM631 697h3v1h-3zM637 697h3v1h-3zM643 697h3v1h-3zM649 697h3v1h-3zM655 697h3v1h-3zM661 697h3v1h-3zM667 697h3v1h-3zM673 697h3v1h-3zM679 697h3v1h-3zM685 697h3v1h-3zM691 697h3v1h-3zM697 697h3v1h-3zM703 697h3v1h-3zM709 697h3v1h-3zM715 697h3v1h-3zM721 697h3v1h-3zM727 697h3v1h-3zM733 697h3v1h-3zM739 697h3v1h-3zM745 697h3v1h-3zM751 697h3v1h-3zM757 697h3v1h-3zM763 697h3v1h-3zM769 697h3v1h-3zM775 697h3v1h-3zM781 697h3v1h-3zM787 697h3v1h-3zM793 697h3v1h-3zM799 697h3v1h-3zM805 697h3v1h-3zM811 697h3v1h-3zM817 697h3v1h-3zM823 697h3v1h-3zM829 697h3v1h-3zM835 697h3v1h-3zM841 697h3v1h-3zM847 697h3v1h-3zM853 697h3v1h-3zM859 697h3v1h-3zM865 697h3v1h-3zM871 697h3v1h-3zM877 697h3v1h-3zM883 697h3v1h-3zM889 697h3v1h-3zM895 697h3v1h-3zM901 697h3v1h-3zM907 697h3v1h-3zM913 697h3v1h-3zM919 697h3v1h-3zM925 697h3v1h-3zM931 697h3v1h-3zM937 697h3v1h-3zM943 697h3v1h-3zM949 697h3v1h-3zM955 697h3v1h-3zM961 697h3v1h-3zM967 697h3v1h-3zM973 697h3v1h-3zM979 697h3v1h-3zM985 697h3v1h-3zM991 697h3v1h-3zM997 697h3v1h-3zM1003 697h3v1h-3zM1009 697h3v1h-3zM1015 697h3v1h-3zM1021 697h3v1h-3zM1027 697h3v1h-3zM1033 697h3v1h-3zM1039 697h3v1h-3zM1045 697h3v1h-3zM1051 697h3v1h-3zM1057 697h3v1h-3zM1063 697h3v1h-3zM1069 697h3v1h-3zM1075 697h3v1h-3zM1081 697h3v1h-3zM1087 697h3v1h-3zM1093 697h3v1h-3zM1099 697h3v1h-3zM1105 697h3v1h-3zM1111 697h3v1h-3zM1117 697h3v1h-3zM1123 697h3v1h-3zM1129 697h3v1h-3zM1135 697h3v1h-3zM1141 697h3v1h-3zM1147 697h3v1h-3zM1153 697h3v1h-3zM1159 697h3v1h-3zM1165 697h3v1h-3zM1171 697h3v1h-3zM1177 697h3v1h-3zM1183 697h3v1h-3zM1189 697h3v1h-3zM1195 697h3v1h-3zM1201 697h3v1h-3zM1207 697h3v1h-3zM1213 697h3v1h-3zM1219 697h3v1h-3zM1225 697h3v1h-3zM1231 697h3v1h-3zM1237 697h3v1h-3zM1243 697h3v1h-3zM1249 697h3v1h-3zM1255 697h3v1h-3zM1261 697h3v1h-3zM1267 697h3v1h-3zM1273 697h3v1h-3zM1279 697h3v1h-3zM1285 697h3v1h-3zM1291 697h3v1h-3zM1297 697h3v1h-3zM1303 697h3v1h-3zM1309 697h3v1h-3zM1315 697h3v1h-3zM1321 697h3v1h-3zM1327 697h3v1h-3zM1333 697h3v1h-3zM1339 697h3v1h-3zM1345 697h3v1h-3zM1351 697h3v1h-3zM1357 697h3v1h-3zM1363 697h3v1h-3zM1369 697h3v1h-3zM1375 697h3v1h-3zM1381 697h3v1h-3zM1387 697h3v1h-3zM1393 697h3v1h-3zM1399 697h3v1h-3zM1405 697h3v1h-3zM1411 697h3v1h-3zM1417 697h3v1h-3zM1423 697h3v1h-3zM1429 697h3v1h-3zM1435 697h3v1h-3zM1441 697h3v1h-3zM1447 697h3v1h-3zM1453 697h3v1h-3zM1459 697h3v1h-3zM1465 697h3v1h-3zM1471 697h3v1h-3zM1477 697h3v1h-3zM1483 697h3v1h-3zM1489 697h3v1h-3zM1495 697h3v1h-3zM1501 697h3v1h-3zM1507 697h3v1h-3zM1513 697h3v1h-3zM1519 697h3v1h-3zM1525 697h3v1h-3zM1531 697h3v1h-3zM1537 697h3v1h-3zM1543 697h3v1h-3zM1549 697h3v1h-3zM1555 697h3v1h-3zM1561 697h3v1h-3zM1567 697h3v1h-3zM1573 697h3v1h-3zM1579 697h3v1h-3zM1585 697h3v1h-3zM1591 697h3v1h-3zM1597 697h3v1h-3zM1603 697h3v1h-3zM1609 697h3v1h-3zM1615 697h3v1h-3zM1621 697h3v1h-3zM1627 697h3v1h-3zM1633 697h3v1h-3zM1639 697h3v1h-3zM1645 697h3v1h-3zM1651 697h3v1h-3zM1657 697h3v1h-3zM1663 697h3v1h-3zM1669 697h1v1h-1z"/>
<g clip-path="url(#crsi)">
<path fill="#1e90ff" d="M134 624h1v1h-1zM132 625h2v1h-2zM135 625h1v2h-1zM130 626h2v1h-2zM128 627h2v1h-2zM136 627h1v1h-1zM126 628h2v1h-2zM137 628h1v2h-1zM125 629h1v1h-1zM124 630h1v1h-1zM138 630h1v1h-1zM6 631h2v1h-2zM123 631h1v1h-1zM139 631h1v2h-1zM8 632h3v1h-3zM21 632h2v1h-2zM122 632h1v2h-1zM11 633h2v1h-2zM17 633h4v1h-4zM23 633h1v2h-1zM140 633h1v1h-1zM13 634h4v1h-4zM121 634h1v1h-1zM141 634h1v2h-1zM206 634h1v1h-1zM24 635h1v1h-1zM120 635h1v1h-1zM205 635h1v1h-1zM207 635h1v2h-1zM25 636h1v1h-1zM119 636h1v1h-1zM142 636h1v1h-1zM204 636h1v1h-1zM26 637h1v2h-1zM118 637h1v1h-1zM143 637h2v1h-2zM203 637h1v1h-1zM208 637h1v2h-1zM117 638h1v2h-1zM145 638h1v1h-1zM201 638h2v1h-2zM27 639h1v1h-1zM146 639h1v1h-1zM200 639h1v1h-1zM209 639h1v2h-1zM28 640h1v1h-1zM59 640h4v1h-4zM116 640h1v1h-1zM147 640h2v1h-2zM199 640h1v1h-1zM581 640h2v1h-2zM29 641h1v2h-1zM53 641h6v1h-6zM63 641h2v1h-2zM93 641h2v1h-2zM115 641h1v1h-1zM149 641h1v1h-1zM198 641h1v1h-1zM210 641h1v2h-1zM579 641h2v1h-2zM583 641h2v1h-2zM51 642h2v1h-2zM65 642h2v1h-2zM89 642h4v1h-4zM95 642h1v1h-1zM114 642h1v2h-1zM150 642h10v1h-10zM197 642h1v1h-1zM576 642h3v1h-3zM585 642h1v1h-1zM30 643h1v1h-1zM48 643h3v1h-3zM67 643h1v1h-1zM77 643h12v1h-12zM96 643h1v1h-1zM160 643h2v1h-2zM195 643h2v1h-2zM211 643h1v2h-1zM573 643h3v1h-3zM586 643h1v1h-1zM606 643h2v1h-2zM31 644h1v1h-1zM46 644h2v1h-2zM68 644h2v1h-2zM73 644h4v1h-4zM97 644h2v1h-2zM113 644h1v1h-1zM162 644h2v1h-2zM194 644h1v1h-1zM569 644h4v1h-4zM587 644h2v1h-2zM604 644h2v1h-2zM608 644h2v1h-2zM32 645h1v2h-1zM45 645h1v1h-1zM70 645h3v1h-3zM99 645h1v1h-1zM112 645h1v1h-1zM164 645h2v1h-2zM193 645h1v1h-1zM212 645h1v2h-1zM243 645h4v1h-4zM565 645h4v1h-4zM589 645h1v1h-1zM603 645h1v1h-1zM610 645h2v1h-2zM44 646h1v1h-1zM100 646h1v1h-1zM111 646h1v2h-1zM166 646h13v1h-13zM191 646h2v1h-2zM229 646h14v1h-14zM247 646h2v1h-2zM541 646h3v1h-3zM563 646h2v1h-2zM590 646h3v1h-3zM601 646h2v1h-2zM612 646h2v1h-2zM630 646h1v2h-1zM33 647h1v1h-1zM43 647h1v1h-1zM101 647h1v1h-1zM179 647h12v1h-12zM213 647h1v2h-1zM225 647h4v1h-4zM249 647h2v1h-2zM537 647h4v1h-4zM544 647h2v1h-2zM560 647h3v1h-3zM593 647h4v1h-4zM599 647h2v1h-2zM614 647h2v1h-2zM628 647h2v1h-2zM34 648h1v1h-1zM42 648h1v2h-1zM102 648h9v1h-9zM219 648h6v1h-6zM251 648h1v1h-1zM531 648h6v1h-6zM546 648h2v1h-2zM557 648h3v1h-3zM597 648h2v1h-2zM616 648h3v1h-3zM626 648h2v1h-2zM631 648h1v2h-1zM35 649h1v1h-1zM214 649h5v1h-5zM252 649h2v1h-2zM526 649h5v1h-5zM548 649h2v1h-2zM553 649h4v1h-4zM619 649h2v1h-2zM624 649h2v1h-2zM36 650h1v2h-1zM41 650h1v1h-1zM254 650h3v1h-3zM525 650h1v1h-1zM550 650h3v1h-3zM621 650h3v1h-3zM632 650h1v2h-1zM40 651h1v1h-1zM257 651h4v1h-4zM524 651h1v1h-1zM37 652h1v1h-1zM39 652h1v1h-1zM261 652h2v1h-2zM523 652h1v1h-1zM633 652h1v2h-1zM38 653h1v1h-1zM262 653h1v1h-1zM374 653h2v1h-2zM522 653h1v1h-1zM742 653h1v2h-1zM263 654h1v2h-1zM372 654h2v1h-2zM376 654h2v1h-2zM521 654h1v1h-1zM634 654h1v2h-1zM741 654h1v1h-1zM371 655h1v1h-1zM378 655h2v1h-2zM520 655h1v1h-1zM740 655h1v1h-1zM743 655h1v2h-1zM264 656h1v2h-1zM369 656h2v1h-2zM380 656h2v1h-2zM519 656h1v1h-1zM635 656h1v2h-1zM739 656h1v1h-1zM367 657h2v1h-2zM382 657h5v1h-5zM517 657h2v1h-2zM694 657h2v1h-2zM737 657h2v1h-2zM744 657h1v3h-1zM1269 657h2v1h-2zM265 658h1v2h-1zM366 658h1v1h-1zM387 658h4v1h-4zM413 658h3v1h-3zM513 658h4v1h-4zM636 658h1v2h-1zM692 658h2v1h-2zM696 658h3v1h-3zM736 658h1v1h-1zM1267 658h2v1h-2zM1271 658h1v1h-1zM302 659h1v1h-1zM365 659h1v1h-1zM391 659h1v1h-1zM409 659h4v1h-4zM416 659h3v1h-3zM510 659h3v1h-3zM690 659h2v1h-2zM699 659h2v1h-2zM707 659h8v1h-8zM735 659h1v1h-1zM1264 659h3v1h-3zM1272 659h1v1h-1zM266 660h1v3h-1zM301 660h1v1h-1zM303 660h2v1h-2zM350 660h1v1h-1zM364 660h1v1h-1zM392 660h1v1h-1zM406 660h3v1h-3zM419 660h2v1h-2zM510 660h1v1h-1zM637 660h1v2h-1zM688 660h2v1h-2zM701 660h6v1h-6zM715 660h8v1h-8zM731 660h4v1h-4zM745 660h1v2h-1zM1262 660h2v1h-2zM1273 660h2v1h-2zM300 661h1v1h-1zM305 661h1v1h-1zM349 661h1v2h-1zM351 661h2v1h-2zM363 661h1v1h-1zM393 661h2v1h-2zM404 661h2v1h-2zM421 661h2v1h-2zM509 661h1v2h-1zM670 661h1v1h-1zM686 661h2v1h-2zM723 661h8v1h-8zM1261 661h1v2h-1zM1275 661h1v1h-1zM1293 661h3v1h-3zM299 662h1v1h-1zM306 662h1v1h-1zM353 662h2v1h-2zM361 662h2v1h-2zM395 662h1v1h-1zM403 662h1v1h-1zM423 662h2v1h-2zM438 662h1v1h-1zM638 662h1v2h-1zM668 662h2v1h-2zM671 662h1v2h-1zM685 662h1v2h-1zM746 662h1v3h-1zM1276 662h1v1h-1zM1289 662h4v1h-4zM1296 662h2v1h-2zM267 663h1v2h-1zM297 663h2v1h-2zM307 663h2v1h-2zM348 663h1v1h-1zM355 663h1v1h-1zM360 663h1v1h-1zM396 663h1v1h-1zM401 663h2v1h-2zM425 663h1v1h-1zM436 663h2v1h-2zM439 663h1v2h-1zM508 663h1v2h-1zM639 663h8v1h-8zM667 663h1v1h-1zM1260 663h1v2h-1zM1277 663h1v1h-1zM1283 663h6v1h-6zM1298 663h2v1h-2zM296 664h1v1h-1zM309 664h1v1h-1zM347 664h1v1h-1zM356 664h2v1h-2zM359 664h1v1h-1zM397 664h1v1h-1zM399 664h2v1h-2zM426 664h1v1h-1zM435 664h1v1h-1zM647 664h2v1h-2zM665 664h2v1h-2zM672 664h1v1h-1zM684 664h1v1h-1zM1278 664h5v1h-5zM1300 664h2v1h-2zM268 665h1v2h-1zM295 665h1v1h-1zM310 665h2v1h-2zM346 665h1v2h-1zM358 665h1v1h-1zM398 665h1v1h-1zM427 665h2v1h-2zM433 665h2v1h-2zM440 665h1v1h-1zM507 665h1v2h-1zM649 665h1v1h-1zM663 665h2v1h-2zM673 665h1v1h-1zM683 665h1v1h-1zM747 665h1v2h-1zM1259 665h1v2h-1zM1302 665h3v1h-3zM291 666h4v1h-4zM312 666h3v1h-3zM429 666h1v1h-1zM431 666h2v1h-2zM441 666h1v2h-1zM650 666h1v1h-1zM661 666h2v1h-2zM674 666h1v2h-1zM682 666h1v2h-1zM1305 666h4v1h-4zM269 667h1v2h-1zM286 667h5v1h-5zM315 667h2v1h-2zM345 667h1v1h-1zM430 667h1v1h-1zM506 667h1v3h-1zM651 667h2v1h-2zM659 667h2v1h-2zM748 667h1v3h-1zM1258 667h1v2h-1zM1309 667h3v1h-3zM284 668h2v1h-2zM317 668h6v1h-6zM344 668h1v1h-1zM442 668h1v1h-1zM653 668h1v1h-1zM656 668h3v1h-3zM675 668h1v1h-1zM681 668h1v1h-1zM1312 668h2v1h-2zM270 669h1v2h-1zM283 669h1v1h-1zM323 669h14v1h-14zM343 669h1v2h-1zM443 669h1v2h-1zM654 669h2v1h-2zM676 669h1v1h-1zM680 669h1v1h-1zM1257 669h1v2h-1zM1314 669h2v1h-2zM1333 669h1v1h-1zM271 670h2v1h-2zM281 670h2v1h-2zM337 670h4v1h-4zM505 670h1v2h-1zM677 670h1v2h-1zM679 670h1v2h-1zM749 670h1v2h-1zM1316 670h2v1h-2zM1331 670h2v1h-2zM273 671h4v1h-4zM279 671h2v1h-2zM341 671h2v1h-2zM444 671h1v1h-1zM763 671h8v1h-8zM790 671h2v1h-2zM1256 671h1v2h-1zM1318 671h5v1h-5zM1328 671h3v1h-3zM277 672h2v1h-2zM445 672h1v2h-1zM504 672h1v2h-1zM678 672h1v1h-1zM750 672h1v2h-1zM755 672h8v1h-8zM771 672h4v1h-4zM789 672h1v1h-1zM792 672h3v1h-3zM1118 672h2v1h-2zM1323 672h5v1h-5zM751 673h4v1h-4zM775 673h2v1h-2zM787 673h2v1h-2zM795 673h2v1h-2zM1117 673h1v1h-1zM1120 673h2v1h-2zM1246 673h2v1h-2zM1255 673h1v2h-1zM446 674h3v1h-3zM503 674h1v2h-1zM777 674h2v1h-2zM786 674h1v1h-1zM797 674h2v1h-2zM1116 674h1v1h-1zM1122 674h2v1h-2zM1245 674h1v2h-1zM1248 674h3v1h-3zM449 675h4v1h-4zM491 675h6v1h-6zM779 675h1v1h-1zM785 675h1v1h-1zM799 675h1v1h-1zM1115 675h1v1h-1zM1124 675h2v1h-2zM1251 675h2v1h-2zM1254 675h1v2h-1zM453 676h4v1h-4zM478 676h13v1h-13zM497 676h4v1h-4zM502 676h1v2h-1zM780 676h2v1h-2zM783 676h2v1h-2zM800 676h1v1h-1zM1114 676h1v1h-1zM1126 676h17v1h-17zM1158 676h10v1h-10zM1189 676h2v1h-2zM1214 676h1v1h-1zM1244 676h1v2h-1zM1253 676h1v1h-1zM457 677h4v1h-4zM476 677h2v1h-2zM501 677h1v1h-1zM782 677h1v1h-1zM801 677h1v1h-1zM1113 677h1v1h-1zM1143 677h2v1h-2zM1157 677h1v1h-1zM1168 677h2v1h-2zM1187 677h2v1h-2zM1191 677h2v1h-2zM1212 677h2v1h-2zM1215 677h2v1h-2zM461 678h4v1h-4zM474 678h2v1h-2zM802 678h1v1h-1zM982 678h2v1h-2zM1038 678h1v1h-1zM1112 678h1v1h-1zM1145 678h1v1h-1zM1155 678h2v1h-2zM1170 678h2v1h-2zM1184 678h3v1h-3zM1193 678h1v1h-1zM1211 678h1v1h-1zM1217 678h1v1h-1zM1243 678h1v2h-1zM465 679h4v1h-4zM472 679h2v1h-2zM803 679h1v1h-1zM981 679h1v1h-1zM984 679h2v1h-2zM1037 679h1v2h-1zM1039 679h2v1h-2zM1111 679h1v1h-1zM1146 679h1v1h-1zM1154 679h1v1h-1zM1172 679h2v1h-2zM1179 679h5v1h-5zM1194 679h1v1h-1zM1209 679h2v1h-2zM1218 679h1v1h-1zM469 680h3v1h-3zM804 680h1v1h-1zM979 680h2v1h-2zM986 680h2v1h-2zM997 680h2v1h-2zM1041 680h2v1h-2zM1110 680h1v1h-1zM1147 680h2v1h-2zM1153 680h1v1h-1zM1174 680h5v1h-5zM1195 680h2v1h-2zM1207 680h2v1h-2zM1219 680h2v1h-2zM1242 680h1v1h-1zM805 681h1v1h-1zM978 681h1v1h-1zM988 681h2v1h-2zM993 681h4v1h-4zM999 681h1v1h-1zM1036 681h1v2h-1zM1043 681h1v1h-1zM1109 681h1v1h-1zM1149 681h1v1h-1zM1151 681h2v1h-2zM1197 681h1v1h-1zM1203 681h4v1h-4zM1221 681h1v1h-1zM1227 681h4v1h-4zM1241 681h1v2h-1zM806 682h2v1h-2zM977 682h1v1h-1zM990 682h3v1h-3zM1000 682h1v1h-1zM1044 682h2v1h-2zM1108 682h1v1h-1zM1150 682h1v1h-1zM1198 682h5v1h-5zM1222 682h5v1h-5zM1231 682h2v1h-2zM808 683h3v1h-3zM830 683h5v1h-5zM975 683h2v1h-2zM1001 683h2v1h-2zM1035 683h1v2h-1zM1046 683h13v1h-13zM1107 683h1v1h-1zM1233 683h1v1h-1zM1240 683h1v2h-1zM811 684h2v1h-2zM828 684h2v1h-2zM835 684h20v1h-20zM974 684h1v1h-1zM1003 684h1v1h-1zM1059 684h4v1h-4zM1106 684h1v2h-1zM1234 684h1v1h-1zM813 685h3v1h-3zM827 685h1v1h-1zM854 685h1v1h-1zM934 685h2v1h-2zM973 685h1v1h-1zM1004 685h1v1h-1zM1034 685h1v1h-1zM1063 685h2v1h-2zM1235 685h2v1h-2zM1239 685h1v2h-1zM816 686h3v1h-3zM825 686h2v1h-2zM855 686h1v2h-1zM933 686h1v1h-1zM936 686h3v1h-3zM972 686h1v1h-1zM1005 686h1v1h-1zM1033 686h1v2h-1zM1065 686h2v1h-2zM1105 686h1v1h-1zM1237 686h1v1h-1zM819 687h2v1h-2zM823 687h2v1h-2zM932 687h1v1h-1zM939 687h2v1h-2zM971 687h1v1h-1zM1006 687h3v1h-3zM1067 687h1v1h-1zM1104 687h1v1h-1zM1238 687h1v1h-1zM821 688h2v1h-2zM856 688h1v3h-1zM931 688h1v1h-1zM941 688h4v1h-4zM970 688h1v1h-1zM1009 688h4v1h-4zM1032 688h1v2h-1zM1068 688h2v1h-2zM1093 688h6v1h-6zM1103 688h1v1h-1zM930 689h1v2h-1zM945 689h4v1h-4zM955 689h5v1h-5zM969 689h1v1h-1zM1013 689h3v1h-3zM1070 689h3v1h-3zM1091 689h2v1h-2zM1099 689h4v1h-4zM949 690h6v1h-6zM960 690h3v1h-3zM968 690h1v1h-1zM1016 690h2v1h-2zM1031 690h1v2h-1zM1073 690h4v1h-4zM1088 690h3v1h-3zM857 691h1v3h-1zM929 691h1v1h-1zM963 691h2v1h-2zM967 691h1v1h-1zM1018 691h2v1h-2zM1077 691h11v1h-11zM928 692h1v1h-1zM965 692h2v1h-2zM1020 692h2v1h-2zM1027 692h4v1h-4zM927 693h1v1h-1zM1022 693h5v1h-5zM858 694h1v2h-1zM926 694h1v1h-1zM925 695h1v1h-1zM859 696h1v3h-1zM924 696h1v2h-1zM883 697h13v1h-13zM878 698h5v1h-5zM896 698h2v1h-2zM923 698h1v1h-1zM860 699h1v3h-1zM877 699h1v1h-1zM898 699h2v1h-2zM922 699h1v1h-1zM876 700h1v1h-1zM900 700h2v1h-2zM921 700h1v1h-1zM875 701h1v1h-1zM902 701h1v1h-1zM920 701h1v2h-1zM861 702h1v2h-1zM874 702h1v1h-1zM903 702h2v1h-2zM873 703h1v1h-1zM905 703h2v1h-2zM919 703h1v1h-1zM862 704h1v2h-1zM872 704h1v1h-1zM907 704h1v1h-1zM917 704h2v1h-2zM863 705h4v1h-4zM871 705h1v1h-1zM908 705h2v1h-2zM913 705h4v1h-4zM867 706h4v1h-4zM910 706h3v1h-3z"/>
</g>
<text y="623" font-size="12.5" fill="#000" stroke="#000" stroke-width="0.2"><tspan x="9.5" textLength="42" lengthAdjust="spacingAndGlyphs">RSI(14)</tspan> <tspan x="55.8" textLength="46.5" lengthAdjust="spacingAndGlyphs">52.3522</tspan></text>
<text x="1673.5" y="621" font-size="12.5" fill="#000" stroke="#000" stroke-width="0.2">100</text>
<text x="1672.3" y="652" font-size="12.5" fill="#000" stroke="#000" stroke-width="0.2">70</text>
<text x="1672.3" y="702" font-size="12.5" fill="#000" stroke="#000" stroke-width="0.2">30</text>
<text x="1673.2" y="733" font-size="12.5" fill="#000" stroke="#000" stroke-width="0.2">0</text>
<rect x="6" y="737" width="1" height="3" fill="#000"/>
<text x="5.1" y="752" font-size="12.5" fill="#000" stroke="#000" stroke-width="0.2" textLength="69.9" lengthAdjust="spacingAndGlyphs">13 Feb 2019</text>
<rect x="102" y="737" width="1" height="3" fill="#000"/>
<text x="101.1" y="752" font-size="12.5" fill="#000" stroke="#000" stroke-width="0.2" textLength="73.7" lengthAdjust="spacingAndGlyphs">21 Feb 05:00</text>
<rect x="198" y="737" width="1" height="3" fill="#000"/>
<text x="197.1" y="752" font-size="12.5" fill="#000" stroke="#000" stroke-width="0.2" textLength="65.4" lengthAdjust="spacingAndGlyphs">1 Mar 05:00</text>
<rect x="294" y="737" width="1" height="3" fill="#000"/>
<text x="293.1" y="752" font-size="12.5" fill="#000" stroke="#000" stroke-width="0.2" textLength="73.1" lengthAdjust="spacingAndGlyphs">11 Mar 05:00</text>
<rect x="390" y="737" width="1" height="3" fill="#000"/>
<text x="389.1" y="752" font-size="12.5" fill="#000" stroke="#000" stroke-width="0.2" textLength="73.1" lengthAdjust="spacingAndGlyphs">19 Mar 05:00</text>
<rect x="486" y="737" width="1" height="3" fill="#000"/>
<text x="485.1" y="752" font-size="12.5" fill="#000" stroke="#000" stroke-width="0.2" textLength="73.2" lengthAdjust="spacingAndGlyphs">27 Mar 05:00</text>
<rect x="582" y="737" width="1" height="3" fill="#000"/>
<text x="581.1" y="752" font-size="12.5" fill="#000" stroke="#000" stroke-width="0.2" textLength="66" lengthAdjust="spacingAndGlyphs">4 Apr 05:00</text>
<rect x="678" y="737" width="1" height="3" fill="#000"/>
<text x="677.1" y="752" font-size="12.5" fill="#000" stroke="#000" stroke-width="0.2" textLength="72.6" lengthAdjust="spacingAndGlyphs">15 Apr 05:00</text>
<rect x="774" y="737" width="1" height="3" fill="#000"/>
<text x="773.1" y="752" font-size="12.5" fill="#000" stroke="#000" stroke-width="0.2" textLength="73.1" lengthAdjust="spacingAndGlyphs">23 Apr 05:00</text>
<rect x="870" y="737" width="1" height="3" fill="#000"/>
<text x="869.1" y="752" font-size="12.5" fill="#000" stroke="#000" stroke-width="0.2" textLength="68.1" lengthAdjust="spacingAndGlyphs">6 May 05:00</text>
<rect x="966" y="737" width="1" height="3" fill="#000"/>
<text x="965.1" y="752" font-size="12.5" fill="#000" stroke="#000" stroke-width="0.2" textLength="75.3" lengthAdjust="spacingAndGlyphs">14 May 05:00</text>
<rect x="1062" y="737" width="1" height="3" fill="#000"/>
<text x="1061.1" y="752" font-size="12.5" fill="#000" stroke="#000" stroke-width="0.2" textLength="75.3" lengthAdjust="spacingAndGlyphs">22 May 05:00</text>
<rect x="1158" y="737" width="1" height="3" fill="#000"/>
<text x="1157.1" y="752" font-size="12.5" fill="#000" stroke="#000" stroke-width="0.2" textLength="75.3" lengthAdjust="spacingAndGlyphs">30 May 05:00</text>
<rect x="1254" y="737" width="1" height="3" fill="#000"/>
<text x="1253.1" y="752" font-size="12.5" fill="#000" stroke="#000" stroke-width="0.2" textLength="73.3" lengthAdjust="spacingAndGlyphs">10 Jun 05:00</text>
</svg>
</body></html>
